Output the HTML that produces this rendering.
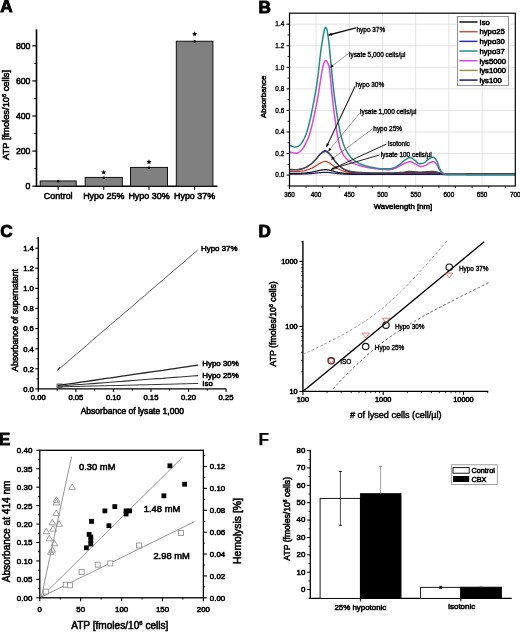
<!DOCTYPE html>
<html><head><meta charset="utf-8"><style>
html,body{margin:0;padding:0;background:#fff;width:520px;height:632px;overflow:hidden}
svg{display:block;will-change:transform}
text{font-family:"Liberation Sans",sans-serif;stroke:#000;stroke-width:0.55px}
</style></head><body>
<svg width="520" height="632" viewBox="0 0 520 632">
<defs><clipPath id="clipB"><rect x="289.5" y="13.2" width="225.8" height="172.8"/></clipPath></defs>
<rect width="520" height="632" fill="#fff"/>
<text x="0.2" y="12.4" font-size="17.2" text-anchor="start" font-weight="bold" fill="#000" style="stroke-width:0.9px">A</text>
<text x="258.5" y="12.6" font-size="17.2" text-anchor="start" font-weight="bold" fill="#000" style="stroke-width:0.9px">B</text>
<text x="0.3" y="236.6" font-size="17.2" text-anchor="start" font-weight="bold" fill="#000" style="stroke-width:0.9px">C</text>
<text x="258.4" y="236.6" font-size="17.2" text-anchor="start" font-weight="bold" fill="#000" style="stroke-width:0.9px">D</text>
<text x="-1.2" y="444.9" font-size="17.2" text-anchor="start" font-weight="bold" fill="#000" style="stroke-width:0.9px">E</text>
<text x="258.4" y="445.4" font-size="17.2" text-anchor="start" font-weight="bold" fill="#000" style="stroke-width:0.25px">F</text>
<line x1="36.5" y1="29.3" x2="36.5" y2="186.9" stroke="#000" stroke-width="1.6" />
<line x1="35.8" y1="186.2" x2="217.5" y2="186.2" stroke="#000" stroke-width="1.6" />
<line x1="32.3" y1="186.2" x2="36.5" y2="186.2" stroke="#000" stroke-width="1.2" />
<text x="30.4" y="189.3" font-size="8.7" text-anchor="end" font-weight="normal" fill="#000" >0</text>
<line x1="34.3" y1="168.65" x2="36.5" y2="168.65" stroke="#000" stroke-width="1" />
<line x1="32.3" y1="151.1" x2="36.5" y2="151.1" stroke="#000" stroke-width="1.2" />
<text x="30.4" y="154.2" font-size="8.7" text-anchor="end" font-weight="normal" fill="#000" >200</text>
<line x1="34.3" y1="133.55" x2="36.5" y2="133.55" stroke="#000" stroke-width="1" />
<line x1="32.3" y1="116" x2="36.5" y2="116" stroke="#000" stroke-width="1.2" />
<text x="30.4" y="119.1" font-size="8.7" text-anchor="end" font-weight="normal" fill="#000" >400</text>
<line x1="34.3" y1="98.45" x2="36.5" y2="98.45" stroke="#000" stroke-width="1" />
<line x1="32.3" y1="80.9" x2="36.5" y2="80.9" stroke="#000" stroke-width="1.2" />
<text x="30.4" y="84" font-size="8.7" text-anchor="end" font-weight="normal" fill="#000" >600</text>
<line x1="34.3" y1="63.35" x2="36.5" y2="63.35" stroke="#000" stroke-width="1" />
<line x1="32.3" y1="45.8" x2="36.5" y2="45.8" stroke="#000" stroke-width="1.2" />
<text x="30.4" y="48.9" font-size="8.7" text-anchor="end" font-weight="normal" fill="#000" >800</text>
<rect x="40.2" y="180.94" width="36" height="5.26" fill="#808080" stroke="#111" stroke-width="1"/>
<circle cx="58.2" cy="181.24" r="1.3" fill="#000"/>
<line x1="58.2" y1="186.2" x2="58.2" y2="189.7" stroke="#000" stroke-width="1.1" />
<rect x="85.2" y="177.42" width="37.1" height="8.78" fill="#808080" stroke="#111" stroke-width="1"/>
<circle cx="103.75" cy="177.72" r="1.3" fill="#000"/>
<line x1="103.75" y1="186.2" x2="103.75" y2="189.7" stroke="#000" stroke-width="1.1" />
<polygon points="103.75,169.7 104.46,171.42 106.32,171.57 104.91,172.78 105.34,174.58 103.75,173.62 102.16,174.58 102.59,172.78 101.18,171.57 103.04,171.42" fill="#000"/>
<rect x="130.5" y="167.42" width="37" height="18.78" fill="#808080" stroke="#111" stroke-width="1"/>
<circle cx="149" cy="167.72" r="1.3" fill="#000"/>
<line x1="149" y1="186.2" x2="149" y2="189.7" stroke="#000" stroke-width="1.1" />
<polygon points="149,159.3 149.71,161.02 151.57,161.17 150.16,162.38 150.59,164.18 149,163.22 147.41,164.18 147.84,162.38 146.43,161.17 148.29,161.02" fill="#000"/>
<rect x="176.3" y="41.24" width="36.6" height="144.96" fill="#808080" stroke="#111" stroke-width="1"/>
<circle cx="194.6" cy="41.54" r="1.3" fill="#000"/>
<line x1="194.6" y1="186.2" x2="194.6" y2="189.7" stroke="#000" stroke-width="1.1" />
<polygon points="194.6,31.3 195.31,33.02 197.17,33.17 195.76,34.38 196.19,36.18 194.6,35.22 193.01,36.18 193.44,34.38 192.03,33.17 193.89,33.02" fill="#000"/>
<text x="58.2" y="199" font-size="8.95" text-anchor="middle" font-weight="normal" fill="#000" >Control</text>
<text x="103.75" y="199" font-size="8.95" text-anchor="middle" font-weight="normal" fill="#000" >Hypo 25%</text>
<text x="149" y="199" font-size="8.95" text-anchor="middle" font-weight="normal" fill="#000" >Hypo 30%</text>
<text x="194.6" y="199" font-size="8.95" text-anchor="middle" font-weight="normal" fill="#000" >Hypo 37%</text>
<text transform="translate(9.0,115.0) rotate(-90)" font-size="9.35" font-weight="normal" text-anchor="middle">ATP [fmoles/10<tspan font-size="5.5" dy="-3.5">6</tspan><tspan dy="3.5"> cells]</tspan></text>
<line x1="316.06" y1="13.2" x2="316.06" y2="186" stroke="#dadada" stroke-width="0.8" />
<line x1="349.27" y1="13.2" x2="349.27" y2="186" stroke="#dadada" stroke-width="0.8" />
<line x1="382.48" y1="13.2" x2="382.48" y2="186" stroke="#dadada" stroke-width="0.8" />
<line x1="415.68" y1="13.2" x2="415.68" y2="186" stroke="#dadada" stroke-width="0.8" />
<line x1="448.89" y1="13.2" x2="448.89" y2="186" stroke="#dadada" stroke-width="0.8" />
<line x1="482.09" y1="13.2" x2="482.09" y2="186" stroke="#dadada" stroke-width="0.8" />
<line x1="289.5" y1="175.1" x2="515.3" y2="175.1" stroke="#dadada" stroke-width="0.8" />
<line x1="289.5" y1="153.54" x2="515.3" y2="153.54" stroke="#dadada" stroke-width="0.8" />
<line x1="289.5" y1="131.98" x2="515.3" y2="131.98" stroke="#dadada" stroke-width="0.8" />
<line x1="289.5" y1="110.42" x2="515.3" y2="110.42" stroke="#dadada" stroke-width="0.8" />
<line x1="289.5" y1="88.86" x2="515.3" y2="88.86" stroke="#dadada" stroke-width="0.8" />
<line x1="289.5" y1="67.3" x2="515.3" y2="67.3" stroke="#dadada" stroke-width="0.8" />
<line x1="289.5" y1="45.74" x2="515.3" y2="45.74" stroke="#dadada" stroke-width="0.8" />
<line x1="289.5" y1="24.18" x2="515.3" y2="24.18" stroke="#dadada" stroke-width="0.8" />
<path d="M289.5,174.11 L290.16,174.12 L290.83,174.12 L291.49,174.13 L292.16,174.13 L292.82,174.14 L293.48,174.14 L294.15,174.14 L294.81,174.14 L295.48,174.14 L296.14,174.14 L296.81,174.14 L297.47,174.13 L298.13,174.13 L298.8,174.12 L299.46,174.1 L300.13,174.09 L300.79,174.07 L301.45,174.05 L302.12,174.04 L302.78,174.02 L303.45,174 L304.11,173.98 L304.77,173.95 L305.44,173.92 L306.1,173.89 L306.77,173.86 L307.43,173.82 L308.1,173.78 L308.76,173.74 L309.42,173.7 L310.09,173.66 L310.75,173.61 L311.42,173.55 L312.08,173.49 L312.74,173.43 L313.41,173.36 L314.07,173.29 L314.74,173.23 L315.4,173.16 L316.06,173.09 L316.73,173.02 L317.39,172.94 L318.06,172.86 L318.72,172.77 L319.39,172.7 L320.05,172.63 L320.71,172.57 L321.38,172.52 L322.04,172.46 L322.71,172.41 L323.37,172.37 L324.03,172.33 L324.7,172.31 L325.36,172.3 L326.03,172.31 L326.69,172.34 L327.35,172.39 L328.02,172.45 L328.68,172.51 L329.35,172.57 L330.01,172.63 L330.68,172.71 L331.34,172.8 L332,172.89 L332.67,172.98 L333.33,173.08 L334,173.17 L334.66,173.25 L335.32,173.33 L335.99,173.4 L336.65,173.48 L337.32,173.56 L337.98,173.63 L338.64,173.7 L339.31,173.76 L339.97,173.81 L340.64,173.86 L341.3,173.91 L341.97,173.96 L342.63,174 L343.29,174.05 L343.96,174.08 L344.62,174.12 L345.29,174.15 L345.95,174.18 L346.61,174.2 L347.28,174.22 L347.94,174.25 L348.61,174.27 L349.27,174.29 L349.93,174.3 L350.6,174.32 L351.26,174.33 L351.93,174.35 L352.59,174.36 L353.26,174.37 L353.92,174.38 L354.58,174.38 L355.25,174.39 L355.91,174.4 L356.58,174.41 L357.24,174.41 L357.9,174.42 L358.57,174.42 L359.23,174.43 L359.9,174.43 L360.56,174.44 L361.22,174.44 L361.89,174.44 L362.55,174.45 L363.22,174.45 L363.88,174.45 L364.55,174.46 L365.21,174.46 L365.87,174.46 L366.54,174.46 L367.2,174.47 L367.87,174.47 L368.53,174.47 L369.19,174.47 L369.86,174.47 L370.52,174.48 L371.19,174.48 L371.85,174.48 L372.51,174.48 L373.18,174.48 L373.84,174.48 L374.51,174.48 L375.17,174.48 L375.84,174.48 L376.5,174.48 L377.16,174.48 L377.83,174.48 L378.49,174.48 L379.16,174.48 L379.82,174.48 L380.48,174.48 L381.15,174.48 L381.81,174.48 L382.48,174.48 L383.14,174.48 L383.8,174.48 L384.47,174.48 L385.13,174.48 L385.8,174.48 L386.46,174.48 L387.13,174.48 L387.79,174.48 L388.45,174.48 L389.12,174.48 L389.78,174.48 L390.45,174.48 L391.11,174.48 L391.77,174.48 L392.44,174.48 L393.1,174.48 L393.77,174.47 L394.43,174.47 L395.09,174.47 L395.76,174.46 L396.42,174.46 L397.09,174.46 L397.75,174.45 L398.42,174.45 L399.08,174.45 L399.74,174.44 L400.41,174.44 L401.07,174.43 L401.74,174.43 L402.4,174.43 L403.06,174.42 L403.73,174.41 L404.39,174.4 L405.06,174.39 L405.72,174.38 L406.38,174.37 L407.05,174.36 L407.71,174.35 L408.38,174.34 L409.04,174.34 L409.71,174.33 L410.37,174.34 L411.03,174.34 L411.7,174.34 L412.36,174.35 L413.03,174.35 L413.69,174.36 L414.35,174.37 L415.02,174.37 L415.68,174.38 L416.35,174.38 L417.01,174.39 L417.67,174.4 L418.34,174.4 L419,174.4 L419.67,174.4 L420.33,174.4 L421,174.4 L421.66,174.4 L422.32,174.4 L422.99,174.39 L423.65,174.39 L424.32,174.38 L424.98,174.38 L425.64,174.37 L426.31,174.37 L426.97,174.36 L427.64,174.36 L428.3,174.35 L428.96,174.35 L429.63,174.35 L430.29,174.34 L430.96,174.34 L431.62,174.34 L432.29,174.34 L432.95,174.33 L433.61,174.34 L434.28,174.34 L434.94,174.35 L435.61,174.37 L436.27,174.38 L436.93,174.4 L437.6,174.41 L438.26,174.43 L438.93,174.45 L439.59,174.47 L440.25,174.48 L440.92,174.49 L441.58,174.5 L442.25,174.52 L442.91,174.53 L443.58,174.54 L444.24,174.55 L444.9,174.56 L445.57,174.56 L446.23,174.56 L446.9,174.56 L447.56,174.56 L448.22,174.56 L448.89,174.56 L449.55,174.56 L450.22,174.56 L450.88,174.56 L451.54,174.56 L452.21,174.56 L452.87,174.56 L453.54,174.56 L454.2,174.56 L454.87,174.56 L455.53,174.56 L456.19,174.56 L456.86,174.56 L457.52,174.56 L458.19,174.56 L458.85,174.56 L459.51,174.56 L460.18,174.56 L460.84,174.56 L461.51,174.56 L462.17,174.56 L462.83,174.56 L463.5,174.56 L464.16,174.56 L464.83,174.56 L465.49,174.56 L466.16,174.56 L466.82,174.56 L467.48,174.56 L468.15,174.56 L468.81,174.56 L469.48,174.56 L470.14,174.56 L470.8,174.56 L471.47,174.56 L472.13,174.56 L472.8,174.56 L473.46,174.56 L474.12,174.56 L474.79,174.56 L475.45,174.56 L476.12,174.56 L476.78,174.56 L477.45,174.56 L478.11,174.56 L478.77,174.56 L479.44,174.56 L480.1,174.56 L480.77,174.56 L481.43,174.56 L482.09,174.56 L482.76,174.56 L483.42,174.56 L484.09,174.56 L484.75,174.56 L485.41,174.56 L486.08,174.56 L486.74,174.56 L487.41,174.56 L488.07,174.56 L488.74,174.56 L489.4,174.56 L490.06,174.56 L490.73,174.56 L491.39,174.56 L492.06,174.56 L492.72,174.56 L493.38,174.56 L494.05,174.56 L494.71,174.56 L495.38,174.56 L496.04,174.56 L496.7,174.56 L497.37,174.56 L498.03,174.56 L498.7,174.56 L499.36,174.56 L500.03,174.56 L500.69,174.56 L501.35,174.56 L502.02,174.56 L502.68,174.56 L503.35,174.56 L504.01,174.56 L504.67,174.56 L505.34,174.56 L506,174.56 L506.67,174.56 L507.33,174.56 L507.99,174.56 L508.66,174.56 L509.32,174.56 L509.99,174.56 L510.65,174.56 L511.32,174.56 L511.98,174.56 L512.64,174.56 L513.31,174.56 L513.97,174.56 L514.64,174.56 L515.3,174.56" fill="none" stroke="#1a1a6e" stroke-width="1.2" stroke-linejoin="round" clip-path="url(#clipB)"/>
<path d="M289.5,173.31 L290.16,173.33 L290.83,173.34 L291.49,173.36 L292.16,173.37 L292.82,173.37 L293.48,173.38 L294.15,173.38 L294.81,173.38 L295.48,173.38 L296.14,173.38 L296.81,173.38 L297.47,173.37 L298.13,173.35 L298.8,173.33 L299.46,173.3 L300.13,173.27 L300.79,173.23 L301.45,173.2 L302.12,173.16 L302.78,173.13 L303.45,173.08 L304.11,173.04 L304.77,172.98 L305.44,172.93 L306.1,172.86 L306.77,172.79 L307.43,172.72 L308.1,172.64 L308.76,172.56 L309.42,172.48 L310.09,172.38 L310.75,172.28 L311.42,172.17 L312.08,172.05 L312.74,171.92 L313.41,171.78 L314.07,171.64 L314.74,171.5 L315.4,171.36 L316.06,171.22 L316.73,171.08 L317.39,170.91 L318.06,170.75 L318.72,170.58 L319.39,170.42 L320.05,170.28 L320.71,170.16 L321.38,170.05 L322.04,169.94 L322.71,169.84 L323.37,169.74 L324.03,169.67 L324.7,169.62 L325.36,169.6 L326.03,169.63 L326.69,169.69 L327.35,169.79 L328.02,169.91 L328.68,170.03 L329.35,170.16 L330.01,170.29 L330.68,170.45 L331.34,170.63 L332,170.81 L332.67,171.01 L333.33,171.2 L334,171.38 L334.66,171.55 L335.32,171.71 L335.99,171.87 L336.65,172.03 L337.32,172.18 L337.98,172.33 L338.64,172.47 L339.31,172.59 L339.97,172.71 L340.64,172.81 L341.3,172.91 L341.97,173.01 L342.63,173.1 L343.29,173.18 L343.96,173.26 L344.62,173.33 L345.29,173.39 L345.95,173.45 L346.61,173.5 L347.28,173.55 L347.94,173.59 L348.61,173.64 L349.27,173.68 L349.93,173.71 L350.6,173.74 L351.26,173.77 L351.93,173.8 L352.59,173.82 L353.26,173.84 L353.92,173.86 L354.58,173.87 L355.25,173.89 L355.91,173.9 L356.58,173.92 L357.24,173.93 L357.9,173.94 L358.57,173.96 L359.23,173.97 L359.9,173.98 L360.56,173.99 L361.22,173.99 L361.89,174 L362.55,174.01 L363.22,174.01 L363.88,174.02 L364.55,174.02 L365.21,174.03 L365.87,174.03 L366.54,174.04 L367.2,174.04 L367.87,174.05 L368.53,174.05 L369.19,174.05 L369.86,174.06 L370.52,174.06 L371.19,174.06 L371.85,174.07 L372.51,174.07 L373.18,174.07 L373.84,174.07 L374.51,174.07 L375.17,174.08 L375.84,174.08 L376.5,174.08 L377.16,174.08 L377.83,174.08 L378.49,174.08 L379.16,174.08 L379.82,174.08 L380.48,174.08 L381.15,174.08 L381.81,174.08 L382.48,174.08 L383.14,174.08 L383.8,174.08 L384.47,174.08 L385.13,174.08 L385.8,174.08 L386.46,174.08 L387.13,174.08 L387.79,174.08 L388.45,174.08 L389.12,174.08 L389.78,174.07 L390.45,174.07 L391.11,174.07 L391.77,174.07 L392.44,174.07 L393.1,174.06 L393.77,174.06 L394.43,174.05 L395.09,174.05 L395.76,174.04 L396.42,174.03 L397.09,174.03 L397.75,174.02 L398.42,174.01 L399.08,174 L399.74,173.99 L400.41,173.99 L401.07,173.98 L401.74,173.97 L402.4,173.96 L403.06,173.95 L403.73,173.93 L404.39,173.91 L405.06,173.89 L405.72,173.87 L406.38,173.84 L407.05,173.82 L407.71,173.8 L408.38,173.79 L409.04,173.78 L409.71,173.77 L410.37,173.78 L411.03,173.78 L411.7,173.79 L412.36,173.8 L413.03,173.81 L413.69,173.82 L414.35,173.84 L415.02,173.85 L415.68,173.86 L416.35,173.88 L417.01,173.89 L417.67,173.9 L418.34,173.91 L419,173.91 L419.67,173.91 L420.33,173.91 L421,173.91 L421.66,173.9 L422.32,173.9 L422.99,173.89 L423.65,173.88 L424.32,173.87 L424.98,173.86 L425.64,173.85 L426.31,173.84 L426.97,173.83 L427.64,173.82 L428.3,173.81 L428.96,173.8 L429.63,173.8 L430.29,173.79 L430.96,173.78 L431.62,173.78 L432.29,173.78 L432.95,173.77 L433.61,173.78 L434.28,173.79 L434.94,173.81 L435.61,173.84 L436.27,173.87 L436.93,173.9 L437.6,173.94 L438.26,173.97 L438.93,174.01 L439.59,174.04 L440.25,174.07 L440.92,174.1 L441.58,174.12 L442.25,174.15 L442.91,174.18 L443.58,174.2 L444.24,174.22 L444.9,174.23 L445.57,174.24 L446.23,174.24 L446.9,174.24 L447.56,174.24 L448.22,174.24 L448.89,174.24 L449.55,174.24 L450.22,174.24 L450.88,174.24 L451.54,174.24 L452.21,174.24 L452.87,174.24 L453.54,174.24 L454.2,174.24 L454.87,174.24 L455.53,174.24 L456.19,174.24 L456.86,174.24 L457.52,174.24 L458.19,174.24 L458.85,174.24 L459.51,174.24 L460.18,174.24 L460.84,174.24 L461.51,174.24 L462.17,174.24 L462.83,174.24 L463.5,174.24 L464.16,174.24 L464.83,174.24 L465.49,174.24 L466.16,174.24 L466.82,174.24 L467.48,174.24 L468.15,174.24 L468.81,174.24 L469.48,174.24 L470.14,174.24 L470.8,174.24 L471.47,174.24 L472.13,174.24 L472.8,174.24 L473.46,174.24 L474.12,174.24 L474.79,174.24 L475.45,174.24 L476.12,174.24 L476.78,174.24 L477.45,174.24 L478.11,174.24 L478.77,174.24 L479.44,174.24 L480.1,174.24 L480.77,174.24 L481.43,174.24 L482.09,174.24 L482.76,174.24 L483.42,174.24 L484.09,174.24 L484.75,174.24 L485.41,174.24 L486.08,174.24 L486.74,174.24 L487.41,174.24 L488.07,174.24 L488.74,174.24 L489.4,174.24 L490.06,174.24 L490.73,174.24 L491.39,174.24 L492.06,174.24 L492.72,174.24 L493.38,174.24 L494.05,174.24 L494.71,174.24 L495.38,174.24 L496.04,174.24 L496.7,174.24 L497.37,174.24 L498.03,174.24 L498.7,174.24 L499.36,174.24 L500.03,174.24 L500.69,174.24 L501.35,174.24 L502.02,174.24 L502.68,174.24 L503.35,174.24 L504.01,174.24 L504.67,174.24 L505.34,174.24 L506,174.24 L506.67,174.24 L507.33,174.24 L507.99,174.24 L508.66,174.24 L509.32,174.24 L509.99,174.24 L510.65,174.24 L511.32,174.24 L511.98,174.24 L512.64,174.24 L513.31,174.24 L513.97,174.24 L514.64,174.24 L515.3,174.24" fill="none" stroke="#111111" stroke-width="1.2" stroke-linejoin="round" clip-path="url(#clipB)"/>
<path d="M289.5,171.33 L290.16,171.38 L290.83,171.42 L291.49,171.45 L292.16,171.47 L292.82,171.49 L293.48,171.5 L294.15,171.51 L294.81,171.51 L295.48,171.51 L296.14,171.51 L296.81,171.5 L297.47,171.47 L298.13,171.43 L298.8,171.37 L299.46,171.29 L300.13,171.21 L300.79,171.12 L301.45,171.03 L302.12,170.93 L302.78,170.83 L303.45,170.72 L304.11,170.6 L304.77,170.46 L305.44,170.3 L306.1,170.13 L306.77,169.94 L307.43,169.74 L308.1,169.54 L308.76,169.32 L309.42,169.1 L310.09,168.85 L310.75,168.57 L311.42,168.27 L312.08,167.94 L312.74,167.6 L313.41,167.24 L314.07,166.87 L314.74,166.5 L315.4,166.12 L316.06,165.75 L316.73,165.35 L317.39,164.92 L318.06,164.47 L318.72,164.02 L319.39,163.6 L320.05,163.21 L320.71,162.9 L321.38,162.61 L322.04,162.32 L322.71,162.04 L323.37,161.79 L324.03,161.59 L324.7,161.46 L325.36,161.41 L326.03,161.48 L326.69,161.65 L327.35,161.91 L328.02,162.23 L328.68,162.57 L329.35,162.9 L330.01,163.25 L330.68,163.68 L331.34,164.15 L332,164.65 L332.67,165.17 L333.33,165.68 L334,166.17 L334.66,166.62 L335.32,167.04 L335.99,167.47 L336.65,167.89 L337.32,168.31 L337.98,168.7 L338.64,169.07 L339.31,169.41 L339.97,169.72 L340.64,169.99 L341.3,170.26 L341.97,170.51 L342.63,170.76 L343.29,170.98 L343.96,171.19 L344.62,171.38 L345.29,171.55 L345.95,171.7 L346.61,171.83 L347.28,171.96 L347.94,172.08 L348.61,172.2 L349.27,172.3 L349.93,172.4 L350.6,172.49 L351.26,172.57 L351.93,172.63 L352.59,172.69 L353.26,172.74 L353.92,172.79 L354.58,172.83 L355.25,172.88 L355.91,172.92 L356.58,172.95 L357.24,172.99 L357.9,173.02 L358.57,173.05 L359.23,173.08 L359.9,173.11 L360.56,173.13 L361.22,173.15 L361.89,173.17 L362.55,173.19 L363.22,173.2 L363.88,173.22 L364.55,173.23 L365.21,173.24 L365.87,173.26 L366.54,173.27 L367.2,173.28 L367.87,173.29 L368.53,173.31 L369.19,173.32 L369.86,173.33 L370.52,173.34 L371.19,173.34 L371.85,173.35 L372.51,173.36 L373.18,173.36 L373.84,173.37 L374.51,173.37 L375.17,173.37 L375.84,173.37 L376.5,173.37 L377.16,173.37 L377.83,173.37 L378.49,173.37 L379.16,173.37 L379.82,173.37 L380.48,173.37 L381.15,173.37 L381.81,173.37 L382.48,173.37 L383.14,173.37 L383.8,173.37 L384.47,173.37 L385.13,173.37 L385.8,173.37 L386.46,173.37 L387.13,173.37 L387.79,173.37 L388.45,173.37 L389.12,173.37 L389.78,173.37 L390.45,173.37 L391.11,173.36 L391.77,173.36 L392.44,173.35 L393.1,173.34 L393.77,173.32 L394.43,173.31 L395.09,173.29 L395.76,173.28 L396.42,173.26 L397.09,173.24 L397.75,173.22 L398.42,173.2 L399.08,173.18 L399.74,173.16 L400.41,173.13 L401.07,173.11 L401.74,173.09 L402.4,173.06 L403.06,173.03 L403.73,172.99 L404.39,172.93 L405.06,172.87 L405.72,172.81 L406.38,172.75 L407.05,172.69 L407.71,172.64 L408.38,172.6 L409.04,172.58 L409.71,172.57 L410.37,172.57 L411.03,172.58 L411.7,172.61 L412.36,172.63 L413.03,172.66 L413.69,172.7 L414.35,172.73 L415.02,172.77 L415.68,172.81 L416.35,172.84 L417.01,172.87 L417.67,172.9 L418.34,172.92 L419,172.93 L419.67,172.94 L420.33,172.94 L421,172.93 L421.66,172.92 L422.32,172.9 L422.99,172.88 L423.65,172.86 L424.32,172.83 L424.98,172.81 L425.64,172.78 L426.31,172.75 L426.97,172.72 L427.64,172.7 L428.3,172.67 L428.96,172.65 L429.63,172.62 L430.29,172.61 L430.96,172.59 L431.62,172.58 L432.29,172.57 L432.95,172.57 L433.61,172.58 L434.28,172.61 L434.94,172.67 L435.61,172.74 L436.27,172.82 L436.93,172.91 L437.6,173.01 L438.26,173.1 L438.93,173.2 L439.59,173.29 L440.25,173.37 L440.92,173.43 L441.58,173.5 L442.25,173.57 L442.91,173.64 L443.58,173.7 L444.24,173.76 L444.9,173.79 L445.57,173.81 L446.23,173.81 L446.9,173.81 L447.56,173.81 L448.22,173.81 L448.89,173.81 L449.55,173.81 L450.22,173.81 L450.88,173.81 L451.54,173.81 L452.21,173.81 L452.87,173.81 L453.54,173.81 L454.2,173.81 L454.87,173.81 L455.53,173.81 L456.19,173.81 L456.86,173.81 L457.52,173.81 L458.19,173.81 L458.85,173.81 L459.51,173.81 L460.18,173.81 L460.84,173.81 L461.51,173.81 L462.17,173.81 L462.83,173.81 L463.5,173.81 L464.16,173.81 L464.83,173.81 L465.49,173.81 L466.16,173.81 L466.82,173.81 L467.48,173.81 L468.15,173.81 L468.81,173.81 L469.48,173.81 L470.14,173.81 L470.8,173.81 L471.47,173.81 L472.13,173.81 L472.8,173.81 L473.46,173.81 L474.12,173.81 L474.79,173.81 L475.45,173.81 L476.12,173.81 L476.78,173.81 L477.45,173.81 L478.11,173.81 L478.77,173.81 L479.44,173.81 L480.1,173.81 L480.77,173.81 L481.43,173.81 L482.09,173.81 L482.76,173.81 L483.42,173.81 L484.09,173.81 L484.75,173.81 L485.41,173.81 L486.08,173.81 L486.74,173.81 L487.41,173.81 L488.07,173.81 L488.74,173.81 L489.4,173.81 L490.06,173.81 L490.73,173.81 L491.39,173.81 L492.06,173.81 L492.72,173.81 L493.38,173.81 L494.05,173.81 L494.71,173.81 L495.38,173.81 L496.04,173.81 L496.7,173.81 L497.37,173.81 L498.03,173.81 L498.7,173.81 L499.36,173.81 L500.03,173.81 L500.69,173.81 L501.35,173.81 L502.02,173.81 L502.68,173.81 L503.35,173.81 L504.01,173.81 L504.67,173.81 L505.34,173.81 L506,173.81 L506.67,173.81 L507.33,173.81 L507.99,173.81 L508.66,173.81 L509.32,173.81 L509.99,173.81 L510.65,173.81 L511.32,173.81 L511.98,173.81 L512.64,173.81 L513.31,173.81 L513.97,173.81 L514.64,173.81 L515.3,173.81" fill="none" stroke="#c8321e" stroke-width="1.2" stroke-linejoin="round" clip-path="url(#clipB)"/>
<path d="M289.5,169.6 L290.16,169.7 L290.83,169.78 L291.49,169.84 L292.16,169.88 L292.82,169.91 L293.48,169.94 L294.15,169.95 L294.81,169.96 L295.48,169.96 L296.14,169.96 L296.81,169.94 L297.47,169.88 L298.13,169.79 L298.8,169.68 L299.46,169.54 L300.13,169.38 L300.79,169.21 L301.45,169.03 L302.12,168.84 L302.78,168.65 L303.45,168.45 L304.11,168.21 L304.77,167.94 L305.44,167.63 L306.1,167.31 L306.77,166.95 L307.43,166.58 L308.1,166.18 L308.76,165.76 L309.42,165.33 L310.09,164.86 L310.75,164.33 L311.42,163.75 L312.08,163.13 L312.74,162.47 L313.41,161.78 L314.07,161.08 L314.74,160.36 L315.4,159.64 L316.06,158.93 L316.73,158.17 L317.39,157.35 L318.06,156.48 L318.72,155.63 L319.39,154.81 L320.05,154.08 L320.71,153.48 L321.38,152.93 L322.04,152.37 L322.71,151.83 L323.37,151.36 L324.03,150.98 L324.7,150.72 L325.36,150.63 L326.03,150.76 L326.69,151.1 L327.35,151.59 L328.02,152.2 L328.68,152.84 L329.35,153.48 L330.01,154.16 L330.68,154.97 L331.34,155.87 L332,156.83 L332.67,157.82 L333.33,158.8 L334,159.73 L334.66,160.59 L335.32,161.4 L335.99,162.22 L336.65,163.03 L337.32,163.82 L337.98,164.58 L338.64,165.29 L339.31,165.94 L339.97,166.52 L340.64,167.05 L341.3,167.56 L341.97,168.05 L342.63,168.51 L343.29,168.94 L343.96,169.34 L344.62,169.7 L345.29,170.03 L345.95,170.31 L346.61,170.57 L347.28,170.82 L347.94,171.05 L348.61,171.27 L349.27,171.47 L349.93,171.65 L350.6,171.82 L351.26,171.97 L351.93,172.1 L352.59,172.21 L353.26,172.31 L353.92,172.4 L354.58,172.48 L355.25,172.57 L355.91,172.64 L356.58,172.72 L357.24,172.78 L357.9,172.85 L358.57,172.91 L359.23,172.96 L359.9,173.01 L360.56,173.05 L361.22,173.09 L361.89,173.13 L362.55,173.16 L363.22,173.19 L363.88,173.22 L364.55,173.24 L365.21,173.27 L365.87,173.3 L366.54,173.32 L367.2,173.34 L367.87,173.37 L368.53,173.39 L369.19,173.41 L369.86,173.43 L370.52,173.44 L371.19,173.46 L371.85,173.47 L372.51,173.49 L373.18,173.5 L373.84,173.5 L374.51,173.51 L375.17,173.51 L375.84,173.52 L376.5,173.52 L377.16,173.52 L377.83,173.52 L378.49,173.52 L379.16,173.52 L379.82,173.52 L380.48,173.52 L381.15,173.52 L381.81,173.52 L382.48,173.52 L383.14,173.52 L383.8,173.52 L384.47,173.52 L385.13,173.52 L385.8,173.52 L386.46,173.52 L387.13,173.52 L387.79,173.52 L388.45,173.52 L389.12,173.52 L389.78,173.51 L390.45,173.51 L391.11,173.5 L391.77,173.48 L392.44,173.47 L393.1,173.45 L393.77,173.42 L394.43,173.4 L395.09,173.37 L395.76,173.33 L396.42,173.3 L397.09,173.26 L397.75,173.23 L398.42,173.19 L399.08,173.15 L399.74,173.1 L400.41,173.06 L401.07,173.01 L401.74,172.97 L402.4,172.92 L403.06,172.86 L403.73,172.78 L404.39,172.68 L405.06,172.56 L405.72,172.44 L406.38,172.33 L407.05,172.22 L407.71,172.12 L408.38,172.04 L409.04,171.99 L409.71,171.97 L410.37,171.98 L411.03,172.01 L411.7,172.05 L412.36,172.1 L413.03,172.16 L413.69,172.22 L414.35,172.29 L415.02,172.37 L415.68,172.43 L416.35,172.5 L417.01,172.56 L417.67,172.61 L418.34,172.65 L419,172.68 L419.67,172.69 L420.33,172.68 L421,172.67 L421.66,172.64 L422.32,172.61 L422.99,172.57 L423.65,172.53 L424.32,172.48 L424.98,172.43 L425.64,172.38 L426.31,172.33 L426.97,172.28 L427.64,172.22 L428.3,172.17 L428.96,172.13 L429.63,172.08 L430.29,172.05 L430.96,172.02 L431.62,171.99 L432.29,171.98 L432.95,171.97 L433.61,172 L434.28,172.06 L434.94,172.17 L435.61,172.3 L436.27,172.46 L436.93,172.63 L437.6,172.81 L438.26,173 L438.93,173.18 L439.59,173.35 L440.25,173.5 L440.92,173.63 L441.58,173.76 L442.25,173.89 L442.91,174.03 L443.58,174.15 L444.24,174.25 L444.9,174.32 L445.57,174.35 L446.23,174.35 L446.9,174.35 L447.56,174.35 L448.22,174.35 L448.89,174.35 L449.55,174.35 L450.22,174.35 L450.88,174.35 L451.54,174.35 L452.21,174.35 L452.87,174.35 L453.54,174.35 L454.2,174.35 L454.87,174.35 L455.53,174.35 L456.19,174.35 L456.86,174.35 L457.52,174.35 L458.19,174.35 L458.85,174.35 L459.51,174.35 L460.18,174.35 L460.84,174.35 L461.51,174.35 L462.17,174.35 L462.83,174.35 L463.5,174.35 L464.16,174.35 L464.83,174.35 L465.49,174.35 L466.16,174.35 L466.82,174.35 L467.48,174.35 L468.15,174.35 L468.81,174.35 L469.48,174.35 L470.14,174.35 L470.8,174.35 L471.47,174.35 L472.13,174.35 L472.8,174.35 L473.46,174.35 L474.12,174.35 L474.79,174.35 L475.45,174.35 L476.12,174.35 L476.78,174.35 L477.45,174.35 L478.11,174.35 L478.77,174.35 L479.44,174.35 L480.1,174.35 L480.77,174.35 L481.43,174.35 L482.09,174.35 L482.76,174.35 L483.42,174.35 L484.09,174.35 L484.75,174.35 L485.41,174.35 L486.08,174.35 L486.74,174.35 L487.41,174.35 L488.07,174.35 L488.74,174.35 L489.4,174.35 L490.06,174.35 L490.73,174.35 L491.39,174.35 L492.06,174.35 L492.72,174.35 L493.38,174.35 L494.05,174.35 L494.71,174.35 L495.38,174.35 L496.04,174.35 L496.7,174.35 L497.37,174.35 L498.03,174.35 L498.7,174.35 L499.36,174.35 L500.03,174.35 L500.69,174.35 L501.35,174.35 L502.02,174.35 L502.68,174.35 L503.35,174.35 L504.01,174.35 L504.67,174.35 L505.34,174.35 L506,174.35 L506.67,174.35 L507.33,174.35 L507.99,174.35 L508.66,174.35 L509.32,174.35 L509.99,174.35 L510.65,174.35 L511.32,174.35 L511.98,174.35 L512.64,174.35 L513.31,174.35 L513.97,174.35 L514.64,174.35 L515.3,174.35" fill="none" stroke="#2a2aa8" stroke-width="1.3" stroke-linejoin="round" clip-path="url(#clipB)"/>
<path d="M289.5,169.17 L290.16,169.26 L290.83,169.33 L291.49,169.39 L292.16,169.43 L292.82,169.46 L293.48,169.48 L294.15,169.49 L294.81,169.5 L295.48,169.5 L296.14,169.5 L296.81,169.48 L297.47,169.43 L298.13,169.35 L298.8,169.24 L299.46,169.11 L300.13,168.97 L300.79,168.81 L301.45,168.64 L302.12,168.46 L302.78,168.29 L303.45,168.1 L304.11,167.87 L304.77,167.62 L305.44,167.34 L306.1,167.03 L306.77,166.7 L307.43,166.35 L308.1,165.98 L308.76,165.59 L309.42,165.19 L310.09,164.76 L310.75,164.26 L311.42,163.72 L312.08,163.14 L312.74,162.52 L313.41,161.88 L314.07,161.23 L314.74,160.56 L315.4,159.89 L316.06,159.23 L316.73,158.52 L317.39,157.75 L318.06,156.95 L318.72,156.15 L319.39,155.39 L320.05,154.71 L320.71,154.14 L321.38,153.63 L322.04,153.11 L322.71,152.61 L323.37,152.17 L324.03,151.81 L324.7,151.58 L325.36,151.49 L326.03,151.61 L326.69,151.93 L327.35,152.39 L328.02,152.95 L328.68,153.55 L329.35,154.14 L330.01,154.78 L330.68,155.54 L331.34,156.38 L332,157.27 L332.67,158.19 L333.33,159.1 L334,159.97 L334.66,160.77 L335.32,161.53 L335.99,162.3 L336.65,163.05 L337.32,163.79 L337.98,164.49 L338.64,165.15 L339.31,165.76 L339.97,166.3 L340.64,166.79 L341.3,167.27 L341.97,167.72 L342.63,168.15 L343.29,168.55 L343.96,168.93 L344.62,169.26 L345.29,169.57 L345.95,169.83 L346.61,170.07 L347.28,170.3 L347.94,170.52 L348.61,170.72 L349.27,170.91 L349.93,171.08 L350.6,171.24 L351.26,171.38 L351.93,171.5 L352.59,171.6 L353.26,171.69 L353.92,171.78 L354.58,171.86 L355.25,171.93 L355.91,172 L356.58,172.07 L357.24,172.14 L357.9,172.19 L358.57,172.25 L359.23,172.3 L359.9,172.35 L360.56,172.39 L361.22,172.42 L361.89,172.46 L362.55,172.49 L363.22,172.51 L363.88,172.54 L364.55,172.56 L365.21,172.59 L365.87,172.61 L366.54,172.64 L367.2,172.66 L367.87,172.68 L368.53,172.7 L369.19,172.72 L369.86,172.74 L370.52,172.75 L371.19,172.77 L371.85,172.78 L372.51,172.79 L373.18,172.8 L373.84,172.81 L374.51,172.81 L375.17,172.82 L375.84,172.82 L376.5,172.82 L377.16,172.82 L377.83,172.82 L378.49,172.82 L379.16,172.82 L379.82,172.82 L380.48,172.82 L381.15,172.82 L381.81,172.82 L382.48,172.82 L383.14,172.82 L383.8,172.82 L384.47,172.82 L385.13,172.82 L385.8,172.82 L386.46,172.82 L387.13,172.82 L387.79,172.82 L388.45,172.82 L389.12,172.82 L389.78,172.82 L390.45,172.81 L391.11,172.8 L391.77,172.79 L392.44,172.77 L393.1,172.75 L393.77,172.73 L394.43,172.71 L395.09,172.68 L395.76,172.65 L396.42,172.62 L397.09,172.58 L397.75,172.55 L398.42,172.51 L399.08,172.47 L399.74,172.43 L400.41,172.39 L401.07,172.35 L401.74,172.31 L402.4,172.26 L403.06,172.21 L403.73,172.13 L404.39,172.04 L405.06,171.93 L405.72,171.82 L406.38,171.71 L407.05,171.61 L407.71,171.52 L408.38,171.45 L409.04,171.4 L409.71,171.38 L410.37,171.39 L411.03,171.41 L411.7,171.45 L412.36,171.5 L413.03,171.55 L413.69,171.61 L414.35,171.68 L415.02,171.75 L415.68,171.81 L416.35,171.87 L417.01,171.93 L417.67,171.97 L418.34,172.01 L419,172.04 L419.67,172.04 L420.33,172.04 L421,172.03 L421.66,172 L422.32,171.97 L422.99,171.94 L423.65,171.9 L424.32,171.86 L424.98,171.81 L425.64,171.76 L426.31,171.71 L426.97,171.66 L427.64,171.61 L428.3,171.57 L428.96,171.52 L429.63,171.48 L430.29,171.45 L430.96,171.42 L431.62,171.4 L432.29,171.39 L432.95,171.38 L433.61,171.4 L434.28,171.47 L434.94,171.56 L435.61,171.69 L436.27,171.83 L436.93,171.99 L437.6,172.16 L438.26,172.34 L438.93,172.5 L439.59,172.66 L440.25,172.81 L440.92,172.93 L441.58,173.04 L442.25,173.17 L442.91,173.29 L443.58,173.41 L444.24,173.5 L444.9,173.57 L445.57,173.59 L446.23,173.59 L446.9,173.59 L447.56,173.59 L448.22,173.59 L448.89,173.59 L449.55,173.59 L450.22,173.59 L450.88,173.59 L451.54,173.59 L452.21,173.59 L452.87,173.59 L453.54,173.59 L454.2,173.59 L454.87,173.59 L455.53,173.59 L456.19,173.59 L456.86,173.59 L457.52,173.59 L458.19,173.59 L458.85,173.59 L459.51,173.59 L460.18,173.59 L460.84,173.59 L461.51,173.59 L462.17,173.59 L462.83,173.59 L463.5,173.59 L464.16,173.59 L464.83,173.59 L465.49,173.59 L466.16,173.59 L466.82,173.59 L467.48,173.59 L468.15,173.59 L468.81,173.59 L469.48,173.59 L470.14,173.59 L470.8,173.59 L471.47,173.59 L472.13,173.59 L472.8,173.59 L473.46,173.59 L474.12,173.59 L474.79,173.59 L475.45,173.59 L476.12,173.59 L476.78,173.59 L477.45,173.59 L478.11,173.59 L478.77,173.59 L479.44,173.59 L480.1,173.59 L480.77,173.59 L481.43,173.59 L482.09,173.59 L482.76,173.59 L483.42,173.59 L484.09,173.59 L484.75,173.59 L485.41,173.59 L486.08,173.59 L486.74,173.59 L487.41,173.59 L488.07,173.59 L488.74,173.59 L489.4,173.59 L490.06,173.59 L490.73,173.59 L491.39,173.59 L492.06,173.59 L492.72,173.59 L493.38,173.59 L494.05,173.59 L494.71,173.59 L495.38,173.59 L496.04,173.59 L496.7,173.59 L497.37,173.59 L498.03,173.59 L498.7,173.59 L499.36,173.59 L500.03,173.59 L500.69,173.59 L501.35,173.59 L502.02,173.59 L502.68,173.59 L503.35,173.59 L504.01,173.59 L504.67,173.59 L505.34,173.59 L506,173.59 L506.67,173.59 L507.33,173.59 L507.99,173.59 L508.66,173.59 L509.32,173.59 L509.99,173.59 L510.65,173.59 L511.32,173.59 L511.98,173.59 L512.64,173.59 L513.31,173.59 L513.97,173.59 L514.64,173.59 L515.3,173.59" fill="none" stroke="#4a4a30" stroke-width="1.2" stroke-linejoin="round" clip-path="url(#clipB)"/>
<path d="M289.5,152.14 L290.16,152.17 L290.83,152.24 L291.49,152.36 L292.16,152.55 L292.82,152.75 L293.48,152.89 L294.15,152.99 L294.81,153.08 L295.48,153.16 L296.14,153.21 L296.81,153.21 L297.47,153.05 L298.13,152.74 L298.8,152.34 L299.46,151.92 L300.13,151.45 L300.79,150.85 L301.45,150.16 L302.12,149.38 L302.78,148.54 L303.45,147.58 L304.11,146.42 L304.77,145.14 L305.44,143.84 L306.1,142.56 L306.77,141.26 L307.43,139.88 L308.1,138.38 L308.76,136.69 L309.42,134.68 L310.09,132.41 L310.75,129.98 L311.42,127.49 L312.08,124.84 L312.74,122.05 L313.41,119.15 L314.07,116.17 L314.74,113.1 L315.4,109.94 L316.06,106.67 L316.73,103.27 L317.39,99.72 L318.06,95.93 L318.72,91.83 L319.39,87.56 L320.05,83.31 L320.71,79.21 L321.38,74.98 L322.04,70.89 L322.71,67.52 L323.37,64.8 L324.03,62.63 L324.7,61.34 L325.36,60.5 L326.03,60.58 L326.69,61.42 L327.35,62.41 L328.02,63.64 L328.68,65.34 L329.35,67.94 L330.01,73.35 L330.68,80.49 L331.34,87.6 L332,93.82 L332.67,100.07 L333.33,106.08 L334,111.57 L334.66,116.55 L335.32,121.24 L335.99,125.81 L336.65,130.44 L337.32,134.73 L337.98,138.26 L338.64,141.39 L339.31,144.21 L339.97,146.65 L340.64,148.65 L341.3,150.37 L341.97,151.91 L342.63,153.29 L343.29,154.51 L343.96,155.57 L344.62,156.5 L345.29,157.34 L345.95,158.11 L346.61,158.81 L347.28,159.45 L347.94,160.03 L348.61,160.55 L349.27,161.02 L349.93,161.46 L350.6,161.86 L351.26,162.25 L351.93,162.61 L352.59,162.96 L353.26,163.28 L353.92,163.59 L354.58,163.87 L355.25,164.14 L355.91,164.4 L356.58,164.64 L357.24,164.86 L357.9,165.08 L358.57,165.29 L359.23,165.49 L359.9,165.69 L360.56,165.88 L361.22,166.06 L361.89,166.24 L362.55,166.4 L363.22,166.57 L363.88,166.72 L364.55,166.87 L365.21,167.02 L365.87,167.16 L366.54,167.29 L367.2,167.42 L367.87,167.54 L368.53,167.66 L369.19,167.78 L369.86,167.89 L370.52,168 L371.19,168.11 L371.85,168.21 L372.51,168.31 L373.18,168.41 L373.84,168.5 L374.51,168.59 L375.17,168.68 L375.84,168.76 L376.5,168.84 L377.16,168.92 L377.83,168.99 L378.49,169.05 L379.16,169.12 L379.82,169.17 L380.48,169.22 L381.15,169.28 L381.81,169.33 L382.48,169.39 L383.14,169.44 L383.8,169.49 L384.47,169.53 L385.13,169.58 L385.8,169.61 L386.46,169.65 L387.13,169.67 L387.79,169.69 L388.45,169.71 L389.12,169.71 L389.78,169.68 L390.45,169.61 L391.11,169.5 L391.77,169.36 L392.44,169.2 L393.1,169.02 L393.77,168.83 L394.43,168.63 L395.09,168.41 L395.76,168.12 L396.42,167.79 L397.09,167.43 L397.75,167.05 L398.42,166.66 L399.08,166.29 L399.74,165.94 L400.41,165.59 L401.07,165.23 L401.74,164.87 L402.4,164.51 L403.06,164.16 L403.73,163.83 L404.39,163.52 L405.06,163.24 L405.72,162.97 L406.38,162.68 L407.05,162.4 L407.71,162.14 L408.38,161.91 L409.04,161.74 L409.71,161.64 L410.37,161.64 L411.03,161.76 L411.7,162 L412.36,162.32 L413.03,162.69 L413.69,163.08 L414.35,163.45 L415.02,163.78 L415.68,164.11 L416.35,164.48 L417.01,164.87 L417.67,165.27 L418.34,165.64 L419,165.97 L419.67,166.24 L420.33,166.41 L421,166.48 L421.66,166.44 L422.32,166.36 L422.99,166.22 L423.65,166.05 L424.32,165.85 L424.98,165.63 L425.64,165.4 L426.31,165.07 L426.97,164.61 L427.64,164.08 L428.3,163.54 L428.96,163.06 L429.63,162.7 L430.29,162.43 L430.96,162.17 L431.62,161.93 L432.29,161.75 L432.95,161.64 L433.61,161.65 L434.28,161.94 L434.94,162.47 L435.61,163.16 L436.27,163.93 L436.93,164.77 L437.6,165.98 L438.26,167.4 L438.93,168.78 L439.59,169.91 L440.25,170.87 L440.92,171.72 L441.58,172.41 L442.25,172.97 L442.91,173.46 L443.58,173.84 L444.24,174.08 L444.9,174.26 L445.57,174.42 L446.23,174.52 L446.9,174.56 L447.56,174.56 L448.22,174.57 L448.89,174.57 L449.55,174.57 L450.22,174.58 L450.88,174.58 L451.54,174.58 L452.21,174.58 L452.87,174.59 L453.54,174.59 L454.2,174.59 L454.87,174.59 L455.53,174.6 L456.19,174.6 L456.86,174.6 L457.52,174.6 L458.19,174.6 L458.85,174.61 L459.51,174.61 L460.18,174.61 L460.84,174.61 L461.51,174.61 L462.17,174.62 L462.83,174.62 L463.5,174.62 L464.16,174.62 L464.83,174.62 L465.49,174.62 L466.16,174.63 L466.82,174.63 L467.48,174.63 L468.15,174.63 L468.81,174.63 L469.48,174.63 L470.14,174.64 L470.8,174.64 L471.47,174.64 L472.13,174.64 L472.8,174.64 L473.46,174.64 L474.12,174.64 L474.79,174.64 L475.45,174.65 L476.12,174.65 L476.78,174.65 L477.45,174.65 L478.11,174.65 L478.77,174.65 L479.44,174.65 L480.1,174.65 L480.77,174.65 L481.43,174.65 L482.09,174.65 L482.76,174.66 L483.42,174.66 L484.09,174.66 L484.75,174.66 L485.41,174.66 L486.08,174.66 L486.74,174.66 L487.41,174.66 L488.07,174.66 L488.74,174.66 L489.4,174.66 L490.06,174.66 L490.73,174.66 L491.39,174.66 L492.06,174.66 L492.72,174.66 L493.38,174.66 L494.05,174.66 L494.71,174.66 L495.38,174.67 L496.04,174.67 L496.7,174.67 L497.37,174.67 L498.03,174.67 L498.7,174.67 L499.36,174.67 L500.03,174.67 L500.69,174.67 L501.35,174.67 L502.02,174.67 L502.68,174.67 L503.35,174.67 L504.01,174.67 L504.67,174.67 L505.34,174.67 L506,174.67 L506.67,174.67 L507.33,174.67 L507.99,174.67 L508.66,174.67 L509.32,174.67 L509.99,174.67 L510.65,174.67 L511.32,174.67 L511.98,174.67 L512.64,174.67 L513.31,174.67 L513.97,174.67 L514.64,174.67 L515.3,174.67" fill="none" stroke="#e040e0" stroke-width="1.5" stroke-linejoin="round" clip-path="url(#clipB)"/>
<path d="M289.5,145.45 L290.16,145.58 L290.83,145.76 L291.49,146.03 L292.16,146.38 L292.82,146.64 L293.48,146.81 L294.15,146.95 L294.81,147.05 L295.48,147.07 L296.14,146.96 L296.81,146.76 L297.47,146.53 L298.13,146.25 L298.8,145.86 L299.46,145.38 L300.13,144.83 L300.79,144.17 L301.45,143.29 L302.12,142.25 L302.78,141.14 L303.45,140 L304.11,138.77 L304.77,137.42 L305.44,135.91 L306.1,134.18 L306.77,132.17 L307.43,129.98 L308.1,127.67 L308.76,125.21 L309.42,122.54 L310.09,119.72 L310.75,116.77 L311.42,113.68 L312.08,110.46 L312.74,107.11 L313.41,103.64 L314.07,100.08 L314.74,96.45 L315.4,92.75 L316.06,88.91 L316.73,84.83 L317.39,80.41 L318.06,75.37 L318.72,69.51 L319.39,63.3 L320.05,57.25 L320.71,51.83 L321.38,47.21 L322.04,43.01 L322.71,39.06 L323.37,35.03 L324.03,31.42 L324.7,29 L325.36,27.29 L326.03,27.43 L326.69,29.06 L327.35,31.52 L328.02,35.76 L328.68,40.83 L329.35,47.04 L330.01,53.88 L330.68,60.62 L331.34,67.4 L332,74.35 L332.67,81.13 L333.33,87.41 L334,92.99 L334.66,98.14 L335.32,103 L335.99,107.68 L336.65,112.29 L337.32,116.72 L337.98,120.75 L338.64,124.55 L339.31,128.14 L339.97,131.42 L340.64,134.3 L341.3,136.88 L341.97,139.3 L342.63,141.53 L343.29,143.56 L343.96,145.39 L344.62,146.99 L345.29,148.47 L345.95,149.84 L346.61,151.1 L347.28,152.28 L347.94,153.35 L348.61,154.34 L349.27,155.24 L349.93,156.09 L350.6,156.89 L351.26,157.64 L351.93,158.36 L352.59,159.02 L353.26,159.63 L353.92,160.19 L354.58,160.7 L355.25,161.15 L355.91,161.58 L356.58,161.98 L357.24,162.37 L357.9,162.73 L358.57,163.08 L359.23,163.41 L359.9,163.72 L360.56,164.01 L361.22,164.29 L361.89,164.55 L362.55,164.8 L363.22,165.03 L363.88,165.25 L364.55,165.46 L365.21,165.66 L365.87,165.85 L366.54,166.03 L367.2,166.21 L367.87,166.38 L368.53,166.55 L369.19,166.71 L369.86,166.86 L370.52,167.01 L371.19,167.15 L371.85,167.28 L372.51,167.41 L373.18,167.53 L373.84,167.65 L374.51,167.77 L375.17,167.89 L375.84,168.01 L376.5,168.13 L377.16,168.25 L377.83,168.37 L378.49,168.48 L379.16,168.58 L379.82,168.67 L380.48,168.74 L381.15,168.8 L381.81,168.84 L382.48,168.85 L383.14,168.85 L383.8,168.85 L384.47,168.85 L385.13,168.85 L385.8,168.85 L386.46,168.85 L387.13,168.85 L387.79,168.85 L388.45,168.85 L389.12,168.85 L389.78,168.82 L390.45,168.73 L391.11,168.6 L391.77,168.43 L392.44,168.23 L393.1,168.02 L393.77,167.79 L394.43,167.55 L395.09,167.29 L395.76,166.96 L396.42,166.58 L397.09,166.17 L397.75,165.72 L398.42,165.26 L399.08,164.79 L399.74,164.32 L400.41,163.83 L401.07,163.28 L401.74,162.7 L402.4,162.11 L403.06,161.52 L403.73,160.96 L404.39,160.45 L405.06,160.01 L405.72,159.58 L406.38,159.14 L407.05,158.71 L407.71,158.31 L408.38,157.96 L409.04,157.7 L409.71,157.55 L410.37,157.55 L411.03,157.72 L411.7,158.05 L412.36,158.49 L413.03,159 L413.69,159.54 L414.35,160.07 L415.02,160.55 L415.68,161.04 L416.35,161.63 L417.01,162.24 L417.67,162.83 L418.34,163.32 L419,163.65 L419.67,163.78 L420.33,163.75 L421,163.67 L421.66,163.53 L422.32,163.36 L422.99,163.16 L423.65,162.94 L424.32,162.7 L424.98,162.36 L425.64,161.85 L426.31,161.24 L426.97,160.58 L427.64,159.94 L428.3,159.37 L428.96,158.93 L429.63,158.57 L430.29,158.21 L430.96,157.87 L431.62,157.58 L432.29,157.36 L432.95,157.23 L433.61,157.24 L434.28,157.58 L434.94,158.23 L435.61,159.08 L436.27,160.05 L436.93,161.14 L437.6,162.82 L438.26,164.82 L438.93,166.79 L439.59,168.37 L440.25,169.74 L440.92,170.94 L441.58,171.87 L442.25,172.55 L442.91,173.13 L443.58,173.58 L444.24,173.89 L444.9,174.14 L445.57,174.35 L446.23,174.5 L446.9,174.56 L447.56,174.56 L448.22,174.57 L448.89,174.57 L449.55,174.57 L450.22,174.58 L450.88,174.58 L451.54,174.58 L452.21,174.58 L452.87,174.59 L453.54,174.59 L454.2,174.59 L454.87,174.59 L455.53,174.6 L456.19,174.6 L456.86,174.6 L457.52,174.6 L458.19,174.6 L458.85,174.61 L459.51,174.61 L460.18,174.61 L460.84,174.61 L461.51,174.61 L462.17,174.62 L462.83,174.62 L463.5,174.62 L464.16,174.62 L464.83,174.62 L465.49,174.62 L466.16,174.63 L466.82,174.63 L467.48,174.63 L468.15,174.63 L468.81,174.63 L469.48,174.63 L470.14,174.64 L470.8,174.64 L471.47,174.64 L472.13,174.64 L472.8,174.64 L473.46,174.64 L474.12,174.64 L474.79,174.64 L475.45,174.65 L476.12,174.65 L476.78,174.65 L477.45,174.65 L478.11,174.65 L478.77,174.65 L479.44,174.65 L480.1,174.65 L480.77,174.65 L481.43,174.65 L482.09,174.65 L482.76,174.66 L483.42,174.66 L484.09,174.66 L484.75,174.66 L485.41,174.66 L486.08,174.66 L486.74,174.66 L487.41,174.66 L488.07,174.66 L488.74,174.66 L489.4,174.66 L490.06,174.66 L490.73,174.66 L491.39,174.66 L492.06,174.66 L492.72,174.66 L493.38,174.66 L494.05,174.66 L494.71,174.66 L495.38,174.67 L496.04,174.67 L496.7,174.67 L497.37,174.67 L498.03,174.67 L498.7,174.67 L499.36,174.67 L500.03,174.67 L500.69,174.67 L501.35,174.67 L502.02,174.67 L502.68,174.67 L503.35,174.67 L504.01,174.67 L504.67,174.67 L505.34,174.67 L506,174.67 L506.67,174.67 L507.33,174.67 L507.99,174.67 L508.66,174.67 L509.32,174.67 L509.99,174.67 L510.65,174.67 L511.32,174.67 L511.98,174.67 L512.64,174.67 L513.31,174.67 L513.97,174.67 L514.64,174.67 L515.3,174.67" fill="none" stroke="#1f8f86" stroke-width="1.5" stroke-linejoin="round" clip-path="url(#clipB)"/>
<rect x="289.5" y="13.2" width="225.8" height="172.8" fill="none" stroke="#000" stroke-width="1.2"/>
<line x1="289.5" y1="186" x2="289.5" y2="189" stroke="#000" stroke-width="1" />
<line x1="306.1" y1="186" x2="306.1" y2="188" stroke="#000" stroke-width="0.8" />
<line x1="322.71" y1="186" x2="322.71" y2="188" stroke="#000" stroke-width="0.8" />
<line x1="339.31" y1="186" x2="339.31" y2="188" stroke="#000" stroke-width="0.8" />
<line x1="355.91" y1="186" x2="355.91" y2="188" stroke="#000" stroke-width="0.8" />
<line x1="372.51" y1="186" x2="372.51" y2="188" stroke="#000" stroke-width="0.8" />
<line x1="389.12" y1="186" x2="389.12" y2="188" stroke="#000" stroke-width="0.8" />
<line x1="405.72" y1="186" x2="405.72" y2="188" stroke="#000" stroke-width="0.8" />
<line x1="422.32" y1="186" x2="422.32" y2="188" stroke="#000" stroke-width="0.8" />
<line x1="438.93" y1="186" x2="438.93" y2="188" stroke="#000" stroke-width="0.8" />
<line x1="455.53" y1="186" x2="455.53" y2="188" stroke="#000" stroke-width="0.8" />
<line x1="472.13" y1="186" x2="472.13" y2="188" stroke="#000" stroke-width="0.8" />
<line x1="488.74" y1="186" x2="488.74" y2="188" stroke="#000" stroke-width="0.8" />
<line x1="505.34" y1="186" x2="505.34" y2="188" stroke="#000" stroke-width="0.8" />
<text x="289.5" y="196.5" font-size="6.35" text-anchor="middle" font-weight="normal" fill="#000"  style="stroke-width:0.35px">360</text>
<text x="316.06" y="196.5" font-size="6.35" text-anchor="middle" font-weight="normal" fill="#000"  style="stroke-width:0.35px">400</text>
<text x="349.27" y="196.5" font-size="6.35" text-anchor="middle" font-weight="normal" fill="#000"  style="stroke-width:0.35px">450</text>
<text x="382.48" y="196.5" font-size="6.35" text-anchor="middle" font-weight="normal" fill="#000"  style="stroke-width:0.35px">500</text>
<text x="415.68" y="196.5" font-size="6.35" text-anchor="middle" font-weight="normal" fill="#000"  style="stroke-width:0.35px">550</text>
<text x="448.89" y="196.5" font-size="6.35" text-anchor="middle" font-weight="normal" fill="#000"  style="stroke-width:0.35px">600</text>
<text x="482.09" y="196.5" font-size="6.35" text-anchor="middle" font-weight="normal" fill="#000"  style="stroke-width:0.35px">650</text>
<text x="515.3" y="196.5" font-size="6.35" text-anchor="middle" font-weight="normal" fill="#000"  style="stroke-width:0.35px">700</text>
<line x1="287.5" y1="185.88" x2="289.5" y2="185.88" stroke="#000" stroke-width="0.8" />
<line x1="286.5" y1="175.1" x2="289.5" y2="175.1" stroke="#000" stroke-width="1" />
<text x="284.2" y="177.3" font-size="6.35" text-anchor="end" font-weight="normal" fill="#000"  style="stroke-width:0.35px">0.0</text>
<line x1="287.5" y1="164.32" x2="289.5" y2="164.32" stroke="#000" stroke-width="0.8" />
<line x1="286.5" y1="153.54" x2="289.5" y2="153.54" stroke="#000" stroke-width="1" />
<text x="284.2" y="155.74" font-size="6.35" text-anchor="end" font-weight="normal" fill="#000"  style="stroke-width:0.35px">0.2</text>
<line x1="287.5" y1="142.76" x2="289.5" y2="142.76" stroke="#000" stroke-width="0.8" />
<line x1="286.5" y1="131.98" x2="289.5" y2="131.98" stroke="#000" stroke-width="1" />
<text x="284.2" y="134.18" font-size="6.35" text-anchor="end" font-weight="normal" fill="#000"  style="stroke-width:0.35px">0.4</text>
<line x1="287.5" y1="121.2" x2="289.5" y2="121.2" stroke="#000" stroke-width="0.8" />
<line x1="286.5" y1="110.42" x2="289.5" y2="110.42" stroke="#000" stroke-width="1" />
<text x="284.2" y="112.62" font-size="6.35" text-anchor="end" font-weight="normal" fill="#000"  style="stroke-width:0.35px">0.6</text>
<line x1="287.5" y1="99.64" x2="289.5" y2="99.64" stroke="#000" stroke-width="0.8" />
<line x1="286.5" y1="88.86" x2="289.5" y2="88.86" stroke="#000" stroke-width="1" />
<text x="284.2" y="91.06" font-size="6.35" text-anchor="end" font-weight="normal" fill="#000"  style="stroke-width:0.35px">0.8</text>
<line x1="287.5" y1="78.08" x2="289.5" y2="78.08" stroke="#000" stroke-width="0.8" />
<line x1="286.5" y1="67.3" x2="289.5" y2="67.3" stroke="#000" stroke-width="1" />
<text x="284.2" y="69.5" font-size="6.35" text-anchor="end" font-weight="normal" fill="#000"  style="stroke-width:0.35px">1.0</text>
<line x1="287.5" y1="56.52" x2="289.5" y2="56.52" stroke="#000" stroke-width="0.8" />
<line x1="286.5" y1="45.74" x2="289.5" y2="45.74" stroke="#000" stroke-width="1" />
<text x="284.2" y="47.94" font-size="6.35" text-anchor="end" font-weight="normal" fill="#000"  style="stroke-width:0.35px">1.2</text>
<line x1="287.5" y1="34.96" x2="289.5" y2="34.96" stroke="#000" stroke-width="0.8" />
<line x1="286.5" y1="24.18" x2="289.5" y2="24.18" stroke="#000" stroke-width="1" />
<text x="284.2" y="26.38" font-size="6.35" text-anchor="end" font-weight="normal" fill="#000"  style="stroke-width:0.35px">1.4</text>
<text x="403" y="209.2" font-size="7.85" text-anchor="middle" font-weight="normal" fill="#000" >Wavelength [nm]</text>
<text transform="translate(266,96.8) rotate(-90)" font-size="7.96" font-weight="normal" text-anchor="middle">Absorbance</text>
<rect x="457.5" y="16.5" width="51" height="69" fill="#fff" stroke="#777" stroke-width="0.8"/>
<line x1="459.4" y1="22" x2="477.5" y2="22" stroke="#111" stroke-width="1.5" />
<text x="479.5" y="24.8" font-size="7.7" text-anchor="start" font-weight="normal" fill="#000" >Iso</text>
<line x1="459.4" y1="31.68" x2="477.5" y2="31.68" stroke="#c0504a" stroke-width="1.5" />
<text x="479.5" y="34.48" font-size="7.7" text-anchor="start" font-weight="normal" fill="#000" >hypo25</text>
<line x1="459.4" y1="41.36" x2="477.5" y2="41.36" stroke="#2a2ab0" stroke-width="1.5" />
<text x="479.5" y="44.16" font-size="7.7" text-anchor="start" font-weight="normal" fill="#000" >hypo30</text>
<line x1="459.4" y1="51.04" x2="477.5" y2="51.04" stroke="#1f8f86" stroke-width="1.5" />
<text x="479.5" y="53.84" font-size="7.7" text-anchor="start" font-weight="normal" fill="#000" >hypo37</text>
<line x1="459.4" y1="60.72" x2="477.5" y2="60.72" stroke="#e040e0" stroke-width="1.5" />
<text x="479.5" y="63.52" font-size="7.7" text-anchor="start" font-weight="normal" fill="#000" >lys5000</text>
<line x1="459.4" y1="70.4" x2="477.5" y2="70.4" stroke="#9a9a40" stroke-width="1.5" />
<text x="479.5" y="73.2" font-size="7.7" text-anchor="start" font-weight="normal" fill="#000" >lys1000</text>
<line x1="459.4" y1="80.08" x2="477.5" y2="80.08" stroke="#1a1a6e" stroke-width="1.5" />
<text x="479.5" y="82.88" font-size="7.7" text-anchor="start" font-weight="normal" fill="#000" >lys100</text>
<line x1="356" y1="27.8" x2="328.6" y2="35" stroke="#111" stroke-width="1.3" />
<polygon points="328.6,35 331.31,32.74 332.08,35.64" fill="#000"/>
<line x1="348.5" y1="53.5" x2="330.2" y2="67.5" stroke="#555" stroke-width="0.6" />
<polygon points="330.2,67.5 331.83,64.36 333.65,66.75" fill="#000"/>
<line x1="355" y1="86.5" x2="326.5" y2="146.8" stroke="#222" stroke-width="1.1" />
<polygon points="326.5,146.8 326.51,143.27 329.22,144.55" fill="#000"/>
<line x1="359.5" y1="113.5" x2="328.3" y2="151.2" stroke="#555" stroke-width="0.6" />
<polygon points="328.3,151.2 329.18,147.78 331.5,149.69" fill="#000"/>
<line x1="372.6" y1="128.8" x2="331.2" y2="159.6" stroke="#555" stroke-width="0.6" />
<polygon points="331.2,159.6 332.87,156.49 334.66,158.89" fill="#000"/>
<line x1="386.5" y1="144" x2="331" y2="169.6" stroke="#222" stroke-width="1.0" />
<polygon points="331,169.6 333.28,166.9 334.53,169.62" fill="#000"/>
<line x1="379.5" y1="155" x2="333.8" y2="168.2" stroke="#222" stroke-width="1.0" />
<polygon points="333.8,168.2 336.46,165.87 337.29,168.75" fill="#000"/>
<text x="356.5" y="32.2" font-size="6.45" text-anchor="start" font-weight="normal" fill="#000"  style="stroke-width:0.35px">hypo 37%</text>
<text x="349" y="57" font-size="6.45" text-anchor="start" font-weight="normal" fill="#000"  style="stroke-width:0.35px">lysate 5,000 cells/&#181;l</text>
<text x="355.5" y="86.8" font-size="6.45" text-anchor="start" font-weight="normal" fill="#000"  style="stroke-width:0.35px">hypo 30%</text>
<text x="360" y="114.2" font-size="6.45" text-anchor="start" font-weight="normal" fill="#000"  style="stroke-width:0.35px">lysate 1,000 cells/&#181;l</text>
<text x="373.3" y="130.5" font-size="6.45" text-anchor="start" font-weight="normal" fill="#000"  style="stroke-width:0.35px">hypo 25%</text>
<text x="388" y="145.6" font-size="6.45" text-anchor="start" font-weight="normal" fill="#000"  style="stroke-width:0.35px">isotonic</text>
<text x="380.8" y="157.2" font-size="6.45" text-anchor="start" font-weight="normal" fill="#000"  style="stroke-width:0.35px">lysate 100 cells/&#181;l</text>
<line x1="38.3" y1="237.3" x2="38.3" y2="389.5" stroke="#000" stroke-width="1.4" />
<line x1="37.7" y1="388.9" x2="226.3" y2="388.9" stroke="#000" stroke-width="1.4" />
<line x1="35.3" y1="388.9" x2="38.3" y2="388.9" stroke="#000" stroke-width="1.1" />
<text x="33.9" y="391.7" font-size="7.66" text-anchor="end" font-weight="normal" fill="#000" >0.0</text>
<line x1="36.5" y1="378.85" x2="38.3" y2="378.85" stroke="#000" stroke-width="0.9" />
<line x1="35.3" y1="368.8" x2="38.3" y2="368.8" stroke="#000" stroke-width="1.1" />
<text x="33.9" y="371.6" font-size="7.66" text-anchor="end" font-weight="normal" fill="#000" >0.2</text>
<line x1="36.5" y1="358.75" x2="38.3" y2="358.75" stroke="#000" stroke-width="0.9" />
<line x1="35.3" y1="348.7" x2="38.3" y2="348.7" stroke="#000" stroke-width="1.1" />
<text x="33.9" y="351.5" font-size="7.66" text-anchor="end" font-weight="normal" fill="#000" >0.4</text>
<line x1="36.5" y1="338.65" x2="38.3" y2="338.65" stroke="#000" stroke-width="0.9" />
<line x1="35.3" y1="328.6" x2="38.3" y2="328.6" stroke="#000" stroke-width="1.1" />
<text x="33.9" y="331.4" font-size="7.66" text-anchor="end" font-weight="normal" fill="#000" >0.6</text>
<line x1="36.5" y1="318.55" x2="38.3" y2="318.55" stroke="#000" stroke-width="0.9" />
<line x1="35.3" y1="308.5" x2="38.3" y2="308.5" stroke="#000" stroke-width="1.1" />
<text x="33.9" y="311.3" font-size="7.66" text-anchor="end" font-weight="normal" fill="#000" >0.8</text>
<line x1="36.5" y1="298.45" x2="38.3" y2="298.45" stroke="#000" stroke-width="0.9" />
<line x1="35.3" y1="288.4" x2="38.3" y2="288.4" stroke="#000" stroke-width="1.1" />
<text x="33.9" y="291.2" font-size="7.66" text-anchor="end" font-weight="normal" fill="#000" >1.0</text>
<line x1="36.5" y1="278.35" x2="38.3" y2="278.35" stroke="#000" stroke-width="0.9" />
<line x1="35.3" y1="268.3" x2="38.3" y2="268.3" stroke="#000" stroke-width="1.1" />
<text x="33.9" y="271.1" font-size="7.66" text-anchor="end" font-weight="normal" fill="#000" >1.2</text>
<line x1="36.5" y1="258.25" x2="38.3" y2="258.25" stroke="#000" stroke-width="0.9" />
<line x1="35.3" y1="248.2" x2="38.3" y2="248.2" stroke="#000" stroke-width="1.1" />
<text x="33.9" y="251" font-size="7.66" text-anchor="end" font-weight="normal" fill="#000" >1.4</text>
<line x1="36.5" y1="238.15" x2="38.3" y2="238.15" stroke="#000" stroke-width="0.9" />
<line x1="38.3" y1="388.9" x2="38.3" y2="391.9" stroke="#000" stroke-width="1.1" />
<text x="38.3" y="399.6" font-size="7.66" text-anchor="middle" font-weight="normal" fill="#000" >0.00</text>
<line x1="57.08" y1="388.9" x2="57.08" y2="390.7" stroke="#000" stroke-width="0.9" />
<line x1="75.85" y1="388.9" x2="75.85" y2="391.9" stroke="#000" stroke-width="1.1" />
<text x="75.85" y="399.6" font-size="7.66" text-anchor="middle" font-weight="normal" fill="#000" >0.05</text>
<line x1="94.62" y1="388.9" x2="94.62" y2="390.7" stroke="#000" stroke-width="0.9" />
<line x1="113.4" y1="388.9" x2="113.4" y2="391.9" stroke="#000" stroke-width="1.1" />
<text x="113.4" y="399.6" font-size="7.66" text-anchor="middle" font-weight="normal" fill="#000" >0.10</text>
<line x1="132.18" y1="388.9" x2="132.18" y2="390.7" stroke="#000" stroke-width="0.9" />
<line x1="150.95" y1="388.9" x2="150.95" y2="391.9" stroke="#000" stroke-width="1.1" />
<text x="150.95" y="399.6" font-size="7.66" text-anchor="middle" font-weight="normal" fill="#000" >0.15</text>
<line x1="169.73" y1="388.9" x2="169.73" y2="390.7" stroke="#000" stroke-width="0.9" />
<line x1="188.5" y1="388.9" x2="188.5" y2="391.9" stroke="#000" stroke-width="1.1" />
<text x="188.5" y="399.6" font-size="7.66" text-anchor="middle" font-weight="normal" fill="#000" >0.20</text>
<line x1="207.27" y1="388.9" x2="207.27" y2="390.7" stroke="#000" stroke-width="0.9" />
<line x1="226.05" y1="388.9" x2="226.05" y2="391.9" stroke="#000" stroke-width="1.1" />
<text x="226.05" y="399.6" font-size="7.66" text-anchor="middle" font-weight="normal" fill="#000" >0.25</text>
<text x="132.3" y="413.9" font-size="8.53" text-anchor="middle" font-weight="normal" fill="#000" >Absorbance of lysate 1,000</text>
<text transform="translate(17.6,320.3) rotate(-90)" font-size="8.53" font-weight="normal" text-anchor="middle">Absorbance of supernatant</text>
<path d="M57.5,370.3 L62.33,366.19 L67.16,362.13 L71.98,357.78 L76.81,353.75 L81.64,349.81 L86.47,345.67 L91.29,341.15 L96.12,337.05 L100.95,332.83 L105.78,328.89 L110.6,324.55 L115.43,320.62 L120.26,316.58 L125.09,312.26 L129.91,308.32 L134.74,304.14 L139.57,299.72 L144.4,295.85 L149.22,291.56 L154.05,287.5 L158.88,283.3 L163.71,279.36 L168.53,275.1 L173.36,270.82 L178.19,266.87 L183.02,262.85 L187.84,258.48 L192.67,254.3 L197.5,250.3" fill="none" stroke="#555" stroke-width="1.0" stroke-linejoin="round" />
<line x1="57.5" y1="370.3" x2="60" y2="367.2" stroke="#333" stroke-width="1.2" />
<path d="M57.5,385.5 L63.35,384.63 L69.21,383.91 L75.06,383.08 L80.92,382.16 L86.77,381.37 L92.62,380.51 L98.48,379.55 L104.33,378.64 L110.19,377.92 L116.04,377.06 L121.9,376.16 L127.75,375.28 L133.6,374.48 L139.46,373.65 L145.31,372.76 L151.17,371.92 L157.02,371.11 L162.88,370.36 L168.73,369.45 L174.58,368.53 L180.44,367.68 L186.29,366.88 L192.15,365.98 L198,365.2" fill="none" stroke="#222" stroke-width="1.3" stroke-linejoin="round" />
<path d="M57.5,386.2 L63.35,385.69 L69.21,385.32 L75.06,384.78 L80.92,384.43 L86.77,383.96 L92.62,383.6 L98.48,383.17 L104.33,382.71 L110.19,382.27 L116.04,381.75 L121.9,381.38 L127.75,380.86 L133.6,380.48 L139.46,379.97 L145.31,379.56 L151.17,379.03 L157.02,378.63 L162.88,378.36 L168.73,377.74 L174.58,377.41 L180.44,376.96 L186.29,376.54 L192.15,376.04 L198,375.6" fill="none" stroke="#333" stroke-width="1.1" stroke-linejoin="round" />
<path d="M57.5,387 L63.35,386.87 L69.21,386.61 L75.06,386.46 L80.92,386.34 L86.77,386.18 L92.62,386.02 L98.48,385.88 L104.33,385.81 L110.19,385.59 L116.04,385.59 L121.9,385.39 L127.75,385.21 L133.6,385.09 L139.46,384.85 L145.31,384.84 L151.17,384.67 L157.02,384.5 L162.88,384.3 L168.73,384.22 L174.58,384.05 L180.44,383.88 L186.29,383.78 L192.15,383.58 L198,383.4" fill="none" stroke="#333" stroke-width="1.0" stroke-linejoin="round" />
<rect x="57" y="384" width="5" height="3.5" fill="none" stroke="#444" stroke-width="0.8"/>
<text x="201" y="250.7" font-size="7.92" text-anchor="start" font-weight="normal" fill="#000" >Hypo 37%</text>
<text x="202.3" y="366.4" font-size="7.92" text-anchor="start" font-weight="normal" fill="#000" >Hypo 30%</text>
<text x="202.3" y="378.2" font-size="7.92" text-anchor="start" font-weight="normal" fill="#000" >Hypo 25%</text>
<text x="202.3" y="386.4" font-size="7.92" text-anchor="start" font-weight="normal" fill="#000" >Iso</text>
<line x1="302.9" y1="241" x2="302.9" y2="392" stroke="#000" stroke-width="1.4" />
<line x1="302.3" y1="391.4" x2="488.3" y2="391.4" stroke="#000" stroke-width="1.4" />
<line x1="299.4" y1="391.4" x2="302.9" y2="391.4" stroke="#000" stroke-width="1.1" />
<line x1="301.1" y1="371.83" x2="302.9" y2="371.83" stroke="#000" stroke-width="0.8" />
<line x1="301.1" y1="360.39" x2="302.9" y2="360.39" stroke="#000" stroke-width="0.8" />
<line x1="301.1" y1="352.27" x2="302.9" y2="352.27" stroke="#000" stroke-width="0.8" />
<line x1="301.1" y1="345.97" x2="302.9" y2="345.97" stroke="#000" stroke-width="0.8" />
<line x1="301.1" y1="340.82" x2="302.9" y2="340.82" stroke="#000" stroke-width="0.8" />
<line x1="301.1" y1="336.47" x2="302.9" y2="336.47" stroke="#000" stroke-width="0.8" />
<line x1="301.1" y1="332.7" x2="302.9" y2="332.7" stroke="#000" stroke-width="0.8" />
<line x1="301.1" y1="329.37" x2="302.9" y2="329.37" stroke="#000" stroke-width="0.8" />
<line x1="299.4" y1="326.4" x2="302.9" y2="326.4" stroke="#000" stroke-width="1.1" />
<line x1="301.1" y1="306.83" x2="302.9" y2="306.83" stroke="#000" stroke-width="0.8" />
<line x1="301.1" y1="295.39" x2="302.9" y2="295.39" stroke="#000" stroke-width="0.8" />
<line x1="301.1" y1="287.27" x2="302.9" y2="287.27" stroke="#000" stroke-width="0.8" />
<line x1="301.1" y1="280.97" x2="302.9" y2="280.97" stroke="#000" stroke-width="0.8" />
<line x1="301.1" y1="275.82" x2="302.9" y2="275.82" stroke="#000" stroke-width="0.8" />
<line x1="301.1" y1="271.47" x2="302.9" y2="271.47" stroke="#000" stroke-width="0.8" />
<line x1="301.1" y1="267.7" x2="302.9" y2="267.7" stroke="#000" stroke-width="0.8" />
<line x1="301.1" y1="264.37" x2="302.9" y2="264.37" stroke="#000" stroke-width="0.8" />
<line x1="299.4" y1="261.4" x2="302.9" y2="261.4" stroke="#000" stroke-width="1.1" />
<line x1="301.1" y1="241.83" x2="302.9" y2="241.83" stroke="#000" stroke-width="0.8" />
<line x1="302.9" y1="391.4" x2="302.9" y2="394.9" stroke="#000" stroke-width="1.1" />
<line x1="327.07" y1="391.4" x2="327.07" y2="393.2" stroke="#000" stroke-width="0.8" />
<line x1="341.21" y1="391.4" x2="341.21" y2="393.2" stroke="#000" stroke-width="0.8" />
<line x1="351.25" y1="391.4" x2="351.25" y2="393.2" stroke="#000" stroke-width="0.8" />
<line x1="359.03" y1="391.4" x2="359.03" y2="393.2" stroke="#000" stroke-width="0.8" />
<line x1="365.39" y1="391.4" x2="365.39" y2="393.2" stroke="#000" stroke-width="0.8" />
<line x1="370.76" y1="391.4" x2="370.76" y2="393.2" stroke="#000" stroke-width="0.8" />
<line x1="375.42" y1="391.4" x2="375.42" y2="393.2" stroke="#000" stroke-width="0.8" />
<line x1="379.53" y1="391.4" x2="379.53" y2="393.2" stroke="#000" stroke-width="0.8" />
<line x1="383.2" y1="391.4" x2="383.2" y2="394.9" stroke="#000" stroke-width="1.1" />
<line x1="407.37" y1="391.4" x2="407.37" y2="393.2" stroke="#000" stroke-width="0.8" />
<line x1="421.51" y1="391.4" x2="421.51" y2="393.2" stroke="#000" stroke-width="0.8" />
<line x1="431.55" y1="391.4" x2="431.55" y2="393.2" stroke="#000" stroke-width="0.8" />
<line x1="439.33" y1="391.4" x2="439.33" y2="393.2" stroke="#000" stroke-width="0.8" />
<line x1="445.69" y1="391.4" x2="445.69" y2="393.2" stroke="#000" stroke-width="0.8" />
<line x1="451.06" y1="391.4" x2="451.06" y2="393.2" stroke="#000" stroke-width="0.8" />
<line x1="455.72" y1="391.4" x2="455.72" y2="393.2" stroke="#000" stroke-width="0.8" />
<line x1="459.83" y1="391.4" x2="459.83" y2="393.2" stroke="#000" stroke-width="0.8" />
<line x1="463.5" y1="391.4" x2="463.5" y2="394.9" stroke="#000" stroke-width="1.1" />
<line x1="487.67" y1="391.4" x2="487.67" y2="393.2" stroke="#000" stroke-width="0.8" />
<text x="297.6" y="394.1" font-size="7.34" text-anchor="end" font-weight="normal" fill="#000" >10</text>
<text x="297.6" y="329.1" font-size="7.34" text-anchor="end" font-weight="normal" fill="#000" >100</text>
<text x="297.6" y="264.1" font-size="7.34" text-anchor="end" font-weight="normal" fill="#000" >1000</text>
<text x="302.9" y="402.2" font-size="7.34" text-anchor="middle" font-weight="normal" fill="#000" >100</text>
<text x="383.2" y="402.2" font-size="7.34" text-anchor="middle" font-weight="normal" fill="#000" >1000</text>
<text x="463.5" y="402.2" font-size="7.34" text-anchor="middle" font-weight="normal" fill="#000" >10000</text>
<text x="395.8" y="418.4" font-size="9.1" text-anchor="middle" font-weight="normal" fill="#000" style="stroke-width:0.45px"># of lysed cells (cell/&#181;l)</text>
<text transform="translate(276.4,323.9) rotate(-90)" font-size="8.75" font-weight="normal" text-anchor="middle">ATP (fmoles/10<tspan font-size="5.3" dy="-3.3">6</tspan><tspan dy="3.3"> cells)</tspan></text>
<line x1="302.9" y1="391.4" x2="484.2" y2="241.8" stroke="#000" stroke-width="1.35" />
<path d="M302.9,354.43 L304.9,353.49 L306.9,352.55 L308.9,351.61 L310.9,350.66 L312.9,349.71 L314.9,348.75 L316.9,347.79 L318.9,346.81 L320.9,345.84 L322.9,344.85 L324.9,343.86 L326.9,342.86 L328.9,341.85 L330.9,340.83 L332.9,339.8 L334.9,338.77 L336.9,337.72 L338.9,336.65 L340.9,335.58 L342.9,334.49 L344.9,333.39 L346.9,332.26 L348.9,331.13 L350.9,329.97 L352.9,328.8 L354.9,327.6 L356.9,326.38 L358.9,325.14 L360.9,323.87 L362.9,322.57 L364.9,321.25 L366.9,319.89 L368.9,318.51 L370.9,317.09 L372.9,315.64 L374.9,314.15 L376.9,312.63 L378.9,311.07 L380.9,309.47 L382.9,307.84 L384.9,306.16 L386.9,304.45 L388.9,302.71 L390.9,300.92 L392.9,299.1 L394.9,297.24 L396.9,295.36 L398.9,293.43 L400.9,291.48 L402.9,289.5 L404.9,287.49 L406.9,285.45 L408.9,283.39 L410.9,281.3 L412.9,279.19 L414.9,277.06 L416.9,274.92 L418.9,272.75 L420.9,270.57 L422.9,268.37 L424.9,266.15 L426.9,263.92 L428.9,261.68 L430.9,259.43 L432.9,257.17 L434.9,254.89 L436.9,252.61 L438.9,250.31 L440.9,248.01 L442.9,245.7 L444.9,243.38 L446.9,241.06" fill="none" stroke="#a0a0a0" stroke-width="1.0" stroke-linejoin="round" stroke-dasharray="2.8,2"/>
<path d="M332.9,388.96 L334.9,386.83 L336.9,384.71 L338.9,382.61 L340.9,380.53 L342.9,378.46 L344.9,376.4 L346.9,374.37 L348.9,372.36 L350.9,370.37 L352.9,368.4 L354.9,366.45 L356.9,364.53 L358.9,362.64 L360.9,360.77 L362.9,358.93 L364.9,357.12 L366.9,355.34 L368.9,353.59 L370.9,351.87 L372.9,350.18 L374.9,348.52 L376.9,346.9 L378.9,345.3 L380.9,343.74 L382.9,342.21 L384.9,340.71 L386.9,339.24 L388.9,337.79 L390.9,336.38 L392.9,334.99 L394.9,333.62 L396.9,332.28 L398.9,330.96 L400.9,329.67 L402.9,328.39 L404.9,327.13 L406.9,325.9 L408.9,324.67 L410.9,323.47 L412.9,322.28 L414.9,321.1 L416.9,319.94 L418.9,318.79 L420.9,317.65 L422.9,316.52 L424.9,315.41 L426.9,314.3 L428.9,313.2 L430.9,312.11 L432.9,311.03 L434.9,309.95 L436.9,308.88 L438.9,307.82 L440.9,306.77 L442.9,305.71 L444.9,304.67 L446.9,303.63 L448.9,302.6 L450.9,301.56 L452.9,300.54 L454.9,299.52 L456.9,298.5 L458.9,297.48 L460.9,296.47 L462.9,295.46 L464.9,294.46 L466.9,293.46 L468.9,292.46 L470.9,291.46 L472.9,290.47 L474.9,289.47 L476.9,288.48 L478.9,287.5 L480.9,286.51 L482.9,285.53 L484.9,284.55 L486.9,283.57 L488.9,282.59" fill="none" stroke="#6a6a6a" stroke-width="1.0" stroke-linejoin="round" stroke-dasharray="2.8,2"/>
<polygon points="327.6,358.6 334.8,358.6 331.2,363.4" fill="none" stroke="#e06a6a" stroke-width="0.9"/>
<circle cx="331.2" cy="360.8" r="3.2" fill="none" stroke="#111" stroke-width="1.1"/>
<polygon points="362.1,333.1 369.3,333.1 365.7,337.9" fill="none" stroke="#e06a6a" stroke-width="0.9"/>
<circle cx="365.7" cy="346.6" r="3.2" fill="none" stroke="#111" stroke-width="1.1"/>
<polygon points="382.4,318.2 389.6,318.2 386,323" fill="none" stroke="#e06a6a" stroke-width="0.9"/>
<circle cx="386" cy="325.2" r="3.2" fill="none" stroke="#111" stroke-width="1.1"/>
<polygon points="445.7,273.1 452.9,273.1 449.3,277.9" fill="none" stroke="#e06a6a" stroke-width="0.9"/>
<circle cx="449.3" cy="267.2" r="3.2" fill="none" stroke="#111" stroke-width="1.1"/>
<circle cx="331.2" cy="360.8" r="3.1" fill="none" stroke="#c04040" stroke-width="0.9" opacity="0.6"/>
<text x="340.2" y="364.2" font-size="6.45" text-anchor="start" font-weight="normal" fill="#000"  style="stroke-width:0.35px">ISO</text>
<text x="374.8" y="350.1" font-size="6.4" text-anchor="start" font-weight="normal" fill="#000"  style="stroke-width:0.35px">Hypo 25%</text>
<text x="395" y="329.4" font-size="6.4" text-anchor="start" font-weight="normal" fill="#000"  style="stroke-width:0.35px">Hypo 30%</text>
<text x="459" y="271.2" font-size="6.4" text-anchor="start" font-weight="normal" fill="#000"  style="stroke-width:0.35px">Hypo 37%</text>
<rect x="39.8" y="450.3" width="163.6" height="147.5" fill="none" stroke="#000" stroke-width="1.3"/>
<line x1="36.3" y1="597.8" x2="39.8" y2="597.8" stroke="#000" stroke-width="1.1" />
<text x="32.4" y="600.7" font-size="8.0" text-anchor="end" font-weight="normal" fill="#000" >0.00</text>
<line x1="38" y1="588.58" x2="39.8" y2="588.58" stroke="#000" stroke-width="0.9" />
<line x1="36.3" y1="579.36" x2="39.8" y2="579.36" stroke="#000" stroke-width="1.1" />
<text x="32.4" y="582.26" font-size="8.0" text-anchor="end" font-weight="normal" fill="#000" >0.05</text>
<line x1="38" y1="570.14" x2="39.8" y2="570.14" stroke="#000" stroke-width="0.9" />
<line x1="36.3" y1="560.92" x2="39.8" y2="560.92" stroke="#000" stroke-width="1.1" />
<text x="32.4" y="563.82" font-size="8.0" text-anchor="end" font-weight="normal" fill="#000" >0.10</text>
<line x1="38" y1="551.71" x2="39.8" y2="551.71" stroke="#000" stroke-width="0.9" />
<line x1="36.3" y1="542.49" x2="39.8" y2="542.49" stroke="#000" stroke-width="1.1" />
<text x="32.4" y="545.39" font-size="8.0" text-anchor="end" font-weight="normal" fill="#000" >0.15</text>
<line x1="38" y1="533.27" x2="39.8" y2="533.27" stroke="#000" stroke-width="0.9" />
<line x1="36.3" y1="524.05" x2="39.8" y2="524.05" stroke="#000" stroke-width="1.1" />
<text x="32.4" y="526.95" font-size="8.0" text-anchor="end" font-weight="normal" fill="#000" >0.20</text>
<line x1="38" y1="514.83" x2="39.8" y2="514.83" stroke="#000" stroke-width="0.9" />
<line x1="36.3" y1="505.61" x2="39.8" y2="505.61" stroke="#000" stroke-width="1.1" />
<text x="32.4" y="508.51" font-size="8.0" text-anchor="end" font-weight="normal" fill="#000" >0.25</text>
<line x1="38" y1="496.39" x2="39.8" y2="496.39" stroke="#000" stroke-width="0.9" />
<line x1="36.3" y1="487.17" x2="39.8" y2="487.17" stroke="#000" stroke-width="1.1" />
<text x="32.4" y="490.07" font-size="8.0" text-anchor="end" font-weight="normal" fill="#000" >0.30</text>
<line x1="38" y1="477.96" x2="39.8" y2="477.96" stroke="#000" stroke-width="0.9" />
<line x1="36.3" y1="468.74" x2="39.8" y2="468.74" stroke="#000" stroke-width="1.1" />
<text x="32.4" y="471.64" font-size="8.0" text-anchor="end" font-weight="normal" fill="#000" >0.35</text>
<line x1="38" y1="459.52" x2="39.8" y2="459.52" stroke="#000" stroke-width="0.9" />
<line x1="36.3" y1="450.3" x2="39.8" y2="450.3" stroke="#000" stroke-width="1.1" />
<text x="32.4" y="453.2" font-size="8.0" text-anchor="end" font-weight="normal" fill="#000" >0.40</text>
<line x1="203.4" y1="597.8" x2="206.9" y2="597.8" stroke="#000" stroke-width="1.1" />
<text x="209.8" y="600.7" font-size="7.9" text-anchor="start" font-weight="normal" fill="#000" >0.00</text>
<line x1="203.4" y1="586.86" x2="205.2" y2="586.86" stroke="#000" stroke-width="0.9" />
<line x1="203.4" y1="575.92" x2="206.9" y2="575.92" stroke="#000" stroke-width="1.1" />
<text x="209.8" y="578.82" font-size="7.9" text-anchor="start" font-weight="normal" fill="#000" >0.02</text>
<line x1="203.4" y1="564.97" x2="205.2" y2="564.97" stroke="#000" stroke-width="0.9" />
<line x1="203.4" y1="554.03" x2="206.9" y2="554.03" stroke="#000" stroke-width="1.1" />
<text x="209.8" y="556.93" font-size="7.9" text-anchor="start" font-weight="normal" fill="#000" >0.04</text>
<line x1="203.4" y1="543.09" x2="205.2" y2="543.09" stroke="#000" stroke-width="0.9" />
<line x1="203.4" y1="532.15" x2="206.9" y2="532.15" stroke="#000" stroke-width="1.1" />
<text x="209.8" y="535.05" font-size="7.9" text-anchor="start" font-weight="normal" fill="#000" >0.06</text>
<line x1="203.4" y1="521.21" x2="205.2" y2="521.21" stroke="#000" stroke-width="0.9" />
<line x1="203.4" y1="510.26" x2="206.9" y2="510.26" stroke="#000" stroke-width="1.1" />
<text x="209.8" y="513.16" font-size="7.9" text-anchor="start" font-weight="normal" fill="#000" >0.08</text>
<line x1="203.4" y1="499.32" x2="205.2" y2="499.32" stroke="#000" stroke-width="0.9" />
<line x1="203.4" y1="488.38" x2="206.9" y2="488.38" stroke="#000" stroke-width="1.1" />
<text x="209.8" y="491.28" font-size="7.9" text-anchor="start" font-weight="normal" fill="#000" >0.10</text>
<line x1="203.4" y1="477.44" x2="205.2" y2="477.44" stroke="#000" stroke-width="0.9" />
<line x1="203.4" y1="466.49" x2="206.9" y2="466.49" stroke="#000" stroke-width="1.1" />
<text x="209.8" y="469.39" font-size="7.9" text-anchor="start" font-weight="normal" fill="#000" >0.12</text>
<line x1="203.4" y1="455.55" x2="205.2" y2="455.55" stroke="#000" stroke-width="0.9" />
<line x1="39.8" y1="597.8" x2="39.8" y2="601.3" stroke="#000" stroke-width="1.1" />
<text x="39.8" y="611.6" font-size="7.9" text-anchor="middle" font-weight="normal" fill="#000" >0</text>
<line x1="60.25" y1="597.8" x2="60.25" y2="599.6" stroke="#000" stroke-width="0.9" />
<line x1="80.7" y1="597.8" x2="80.7" y2="601.3" stroke="#000" stroke-width="1.1" />
<text x="80.7" y="611.6" font-size="7.9" text-anchor="middle" font-weight="normal" fill="#000" >50</text>
<line x1="101.15" y1="597.8" x2="101.15" y2="599.6" stroke="#000" stroke-width="0.9" />
<line x1="121.6" y1="597.8" x2="121.6" y2="601.3" stroke="#000" stroke-width="1.1" />
<text x="121.6" y="611.6" font-size="7.9" text-anchor="middle" font-weight="normal" fill="#000" >100</text>
<line x1="142.05" y1="597.8" x2="142.05" y2="599.6" stroke="#000" stroke-width="0.9" />
<line x1="162.5" y1="597.8" x2="162.5" y2="601.3" stroke="#000" stroke-width="1.1" />
<text x="162.5" y="611.6" font-size="7.9" text-anchor="middle" font-weight="normal" fill="#000" >150</text>
<line x1="182.95" y1="597.8" x2="182.95" y2="599.6" stroke="#000" stroke-width="0.9" />
<line x1="203.4" y1="597.8" x2="203.4" y2="601.3" stroke="#000" stroke-width="1.1" />
<text x="203.4" y="611.6" font-size="7.9" text-anchor="middle" font-weight="normal" fill="#000" >200</text>
<text x="119.8" y="629.2" font-size="10.1" text-anchor="middle" font-weight="normal">ATP [fmoles/10<tspan font-size="6" dy="-4">6</tspan><tspan dy="4"> cells]</tspan></text>
<text transform="translate(10.2,531.4) rotate(-90)" font-size="10.14" font-weight="normal" text-anchor="middle">Absorbance at 414 nm</text>
<text transform="translate(240.6,531) rotate(-90)" font-size="10.4" font-weight="normal" text-anchor="middle">Hemolysis [%]</text>
<line x1="41.3" y1="597" x2="71.6" y2="456.5" stroke="#777" stroke-width="0.8" />
<line x1="41.3" y1="597" x2="182.1" y2="457.7" stroke="#777" stroke-width="0.8" />
<line x1="41.3" y1="597" x2="194.6" y2="521.6" stroke="#777" stroke-width="0.8" />
<polygon points="72.2,483.9 75.5,489.5 68.9,489.5" fill="none" stroke="#888" stroke-width="0.8"/>
<polygon points="56.5,496.7 59.8,502.3 53.2,502.3" fill="none" stroke="#888" stroke-width="0.8"/>
<polygon points="56.5,499.3 59.8,504.9 53.2,504.9" fill="none" stroke="#888" stroke-width="0.8"/>
<polygon points="56.2,510 59.5,515.6 52.9,515.6" fill="none" stroke="#888" stroke-width="0.8"/>
<polygon points="52.3,519.2 55.6,524.8 49,524.8" fill="none" stroke="#888" stroke-width="0.8"/>
<polygon points="59.1,520.7 62.4,526.3 55.8,526.3" fill="none" stroke="#888" stroke-width="0.8"/>
<polygon points="53.2,525.5 56.5,531.1 49.9,531.1" fill="none" stroke="#888" stroke-width="0.8"/>
<polygon points="46.3,528.1 49.6,533.7 43,533.7" fill="none" stroke="#888" stroke-width="0.8"/>
<polygon points="49.4,535.2 52.7,540.8 46.1,540.8" fill="none" stroke="#888" stroke-width="0.8"/>
<polygon points="54.4,540.2 57.7,545.8 51.1,545.8" fill="none" stroke="#888" stroke-width="0.8"/>
<polygon points="52.3,546.6 55.6,552.2 49,552.2" fill="none" stroke="#888" stroke-width="0.8"/>
<polygon points="50.8,548.8 54.1,554.4 47.5,554.4" fill="none" stroke="#888" stroke-width="0.8"/>
<rect x="167.5" y="463.4" width="4.8" height="4.8" fill="#000"/>
<rect x="182.2" y="481.8" width="4.8" height="4.8" fill="#000"/>
<rect x="161.5" y="493.4" width="4.8" height="4.8" fill="#000"/>
<rect x="112.4" y="504.2" width="4.8" height="4.8" fill="#000"/>
<rect x="102.5" y="508.5" width="4.8" height="4.8" fill="#000"/>
<rect x="123.7" y="508.5" width="4.8" height="4.8" fill="#000"/>
<rect x="127.2" y="508.5" width="4.8" height="4.8" fill="#000"/>
<rect x="123.7" y="511.6" width="4.8" height="4.8" fill="#000"/>
<rect x="89.1" y="519" width="4.8" height="4.8" fill="#000"/>
<rect x="106.5" y="523.3" width="4.8" height="4.8" fill="#000"/>
<rect x="86.7" y="532" width="4.8" height="4.8" fill="#000"/>
<rect x="88.4" y="534.6" width="4.8" height="4.8" fill="#000"/>
<rect x="88.4" y="538.1" width="4.8" height="4.8" fill="#000"/>
<rect x="88.4" y="541.6" width="4.8" height="4.8" fill="#000"/>
<rect x="84" y="545.4" width="4.8" height="4.8" fill="#000"/>
<rect x="43.3" y="589.1" width="5" height="5" fill="#fff" stroke="#888" stroke-width="0.8"/>
<rect x="63.2" y="582.2" width="5" height="5" fill="#fff" stroke="#888" stroke-width="0.8"/>
<rect x="67.5" y="582.8" width="5" height="5" fill="#fff" stroke="#888" stroke-width="0.8"/>
<rect x="79.1" y="569.5" width="5" height="5" fill="#fff" stroke="#888" stroke-width="0.8"/>
<rect x="95.2" y="562.2" width="5" height="5" fill="#fff" stroke="#888" stroke-width="0.8"/>
<rect x="107.8" y="560.9" width="5" height="5" fill="#fff" stroke="#888" stroke-width="0.8"/>
<rect x="136.5" y="543" width="5" height="5" fill="#fff" stroke="#888" stroke-width="0.8"/>
<rect x="178.4" y="530.6" width="5" height="5" fill="#fff" stroke="#888" stroke-width="0.8"/>
<text x="79" y="470.4" font-size="9.4" text-anchor="start" font-weight="normal" fill="#000" >0.30 mM</text>
<text x="143.8" y="512.4" font-size="9.4" text-anchor="start" font-weight="normal" fill="#000" >1.48 mM</text>
<text x="153.4" y="558.6" font-size="9.4" text-anchor="start" font-weight="normal" fill="#000" >2.98 mM</text>
<line x1="310.3" y1="450" x2="310.3" y2="599" stroke="#000" stroke-width="1.3" />
<line x1="309.7" y1="598.4" x2="511.8" y2="598.4" stroke="#000" stroke-width="1.3" />
<line x1="308.5" y1="598.29" x2="310.3" y2="598.29" stroke="#000" stroke-width="0.8" />
<line x1="307.1" y1="589.6" x2="310.3" y2="589.6" stroke="#000" stroke-width="1.0" />
<text x="305.3" y="591.9" font-size="7.84" text-anchor="end" font-weight="normal" fill="#000" >0</text>
<line x1="308.5" y1="580.91" x2="310.3" y2="580.91" stroke="#000" stroke-width="0.8" />
<line x1="307.1" y1="572.23" x2="310.3" y2="572.23" stroke="#000" stroke-width="1.0" />
<text x="305.3" y="574.52" font-size="7.84" text-anchor="end" font-weight="normal" fill="#000" >10</text>
<line x1="308.5" y1="563.54" x2="310.3" y2="563.54" stroke="#000" stroke-width="0.8" />
<line x1="307.1" y1="554.85" x2="310.3" y2="554.85" stroke="#000" stroke-width="1.0" />
<text x="305.3" y="557.15" font-size="7.84" text-anchor="end" font-weight="normal" fill="#000" >20</text>
<line x1="308.5" y1="546.16" x2="310.3" y2="546.16" stroke="#000" stroke-width="0.8" />
<line x1="307.1" y1="537.48" x2="310.3" y2="537.48" stroke="#000" stroke-width="1.0" />
<text x="305.3" y="539.77" font-size="7.84" text-anchor="end" font-weight="normal" fill="#000" >30</text>
<line x1="308.5" y1="528.79" x2="310.3" y2="528.79" stroke="#000" stroke-width="0.8" />
<line x1="307.1" y1="520.1" x2="310.3" y2="520.1" stroke="#000" stroke-width="1.0" />
<text x="305.3" y="522.4" font-size="7.84" text-anchor="end" font-weight="normal" fill="#000" >40</text>
<line x1="308.5" y1="511.41" x2="310.3" y2="511.41" stroke="#000" stroke-width="0.8" />
<line x1="307.1" y1="502.73" x2="310.3" y2="502.73" stroke="#000" stroke-width="1.0" />
<text x="305.3" y="505.03" font-size="7.84" text-anchor="end" font-weight="normal" fill="#000" >50</text>
<line x1="308.5" y1="494.04" x2="310.3" y2="494.04" stroke="#000" stroke-width="0.8" />
<line x1="307.1" y1="485.35" x2="310.3" y2="485.35" stroke="#000" stroke-width="1.0" />
<text x="305.3" y="487.65" font-size="7.84" text-anchor="end" font-weight="normal" fill="#000" >60</text>
<line x1="308.5" y1="476.66" x2="310.3" y2="476.66" stroke="#000" stroke-width="0.8" />
<line x1="307.1" y1="467.98" x2="310.3" y2="467.98" stroke="#000" stroke-width="1.0" />
<text x="305.3" y="470.28" font-size="7.84" text-anchor="end" font-weight="normal" fill="#000" >70</text>
<line x1="308.5" y1="459.29" x2="310.3" y2="459.29" stroke="#000" stroke-width="0.8" />
<line x1="307.1" y1="450.6" x2="310.3" y2="450.6" stroke="#000" stroke-width="1.0" />
<text x="305.3" y="452.9" font-size="7.84" text-anchor="end" font-weight="normal" fill="#000" >80</text>
<line x1="360.4" y1="598.4" x2="360.4" y2="601.4" stroke="#000" stroke-width="1.0" />
<line x1="460.8" y1="598.4" x2="460.8" y2="601.4" stroke="#000" stroke-width="1.0" />
<rect x="320.1" y="498.38" width="40.3" height="100.02" fill="#fff" stroke="#000" stroke-width="0.9"/>
<rect x="360.4" y="493.69" width="40.6" height="104.71" fill="#000" stroke="#000" stroke-width="0.9"/>
<rect x="420.6" y="587.34" width="40.2" height="11.06" fill="#fff" stroke="#000" stroke-width="0.9"/>
<rect x="460.8" y="587.17" width="40.6" height="11.23" fill="#000" stroke="#000" stroke-width="0.9"/>
<line x1="340.4" y1="471.45" x2="340.4" y2="525.31" stroke="#000" stroke-width="0.7" />
<line x1="338.9" y1="471.45" x2="341.9" y2="471.45" stroke="#000" stroke-width="0.9" />
<line x1="338.9" y1="525.31" x2="341.9" y2="525.31" stroke="#000" stroke-width="0.9" />
<line x1="380.6" y1="466.24" x2="380.6" y2="493.69" stroke="#777" stroke-width="0.7" />
<line x1="379.1" y1="466.24" x2="382.1" y2="466.24" stroke="#777" stroke-width="0.9" />
<line x1="440.7" y1="586.3" x2="440.7" y2="588.38" stroke="#000" stroke-width="0.7" />
<line x1="439.2" y1="586.3" x2="442.2" y2="586.3" stroke="#000" stroke-width="0.9" />
<line x1="439.2" y1="588.38" x2="442.2" y2="588.38" stroke="#000" stroke-width="0.9" />
<line x1="481" y1="586.3" x2="481" y2="587.17" stroke="#888" stroke-width="0.7" />
<line x1="479.5" y1="586.3" x2="482.5" y2="586.3" stroke="#888" stroke-width="0.9" />
<text x="360.4" y="609.6" font-size="7.91" text-anchor="middle" font-weight="normal" fill="#000" >25% hypotonic</text>
<text x="461.5" y="609.4" font-size="7.91" text-anchor="middle" font-weight="normal" fill="#000" >Isotonic</text>
<text transform="translate(290.4,518.8) rotate(-90)" font-size="8.6" font-weight="normal" text-anchor="middle">ATP (fmoles/10<tspan font-size="5" dy="-3">6</tspan><tspan dy="3"> cells)</tspan></text>
<rect x="451.3" y="464.8" width="46" height="19.6" fill="#fff" stroke="#888" stroke-width="0.8"/>
<rect x="453" y="467.6" width="16.2" height="5.6" fill="#fff" stroke="#000" stroke-width="0.9"/>
<rect x="453" y="476" width="16.2" height="6" fill="#000"/>
<text x="471.4" y="472.9" font-size="7.3" text-anchor="start" font-weight="normal" fill="#000" >Control</text>
<text x="471.4" y="482.1" font-size="7.3" text-anchor="start" font-weight="normal" fill="#000" >CBX</text>
</svg>
</body></html>
